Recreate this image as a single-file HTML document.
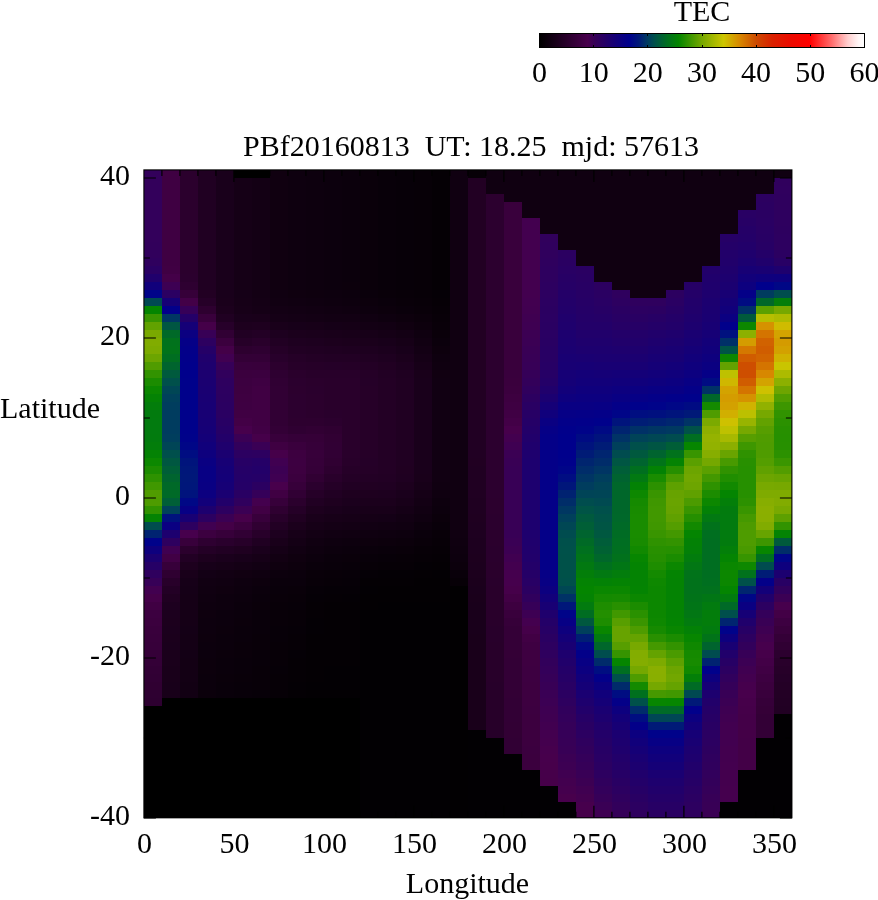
<!DOCTYPE html>
<html><head><meta charset="utf-8"><title>TEC map</title>
<style>
html,body{margin:0;padding:0;background:#fff;}
body{width:878px;height:900px;overflow:hidden;font-family:"Liberation Serif",serif;}
svg{display:block;}
text{font-family:"Liberation Serif",serif;fill:#000;}
</style></head><body>
<svg width="878" height="900" viewBox="0 0 878 900">
<rect width="878" height="900" fill="#fff"/>
<g shape-rendering="crispEdges">
<rect x="144" y="170" width="18" height="72" fill="#33005b"/>
<rect x="144" y="242" width="18" height="8" fill="#32005b"/>
<rect x="144" y="250" width="18" height="8" fill="#31005c"/>
<rect x="144" y="258" width="18" height="8" fill="#2f005e"/>
<rect x="144" y="266" width="18" height="8" fill="#2a0063"/>
<rect x="144" y="274" width="18" height="8" fill="#20006c"/>
<rect x="144" y="282" width="18" height="8" fill="#11007b"/>
<rect x="144" y="290" width="18" height="8" fill="#000489"/>
<rect x="144" y="298" width="18" height="8" fill="#004952"/>
<rect x="144" y="306" width="18" height="8" fill="#048500"/>
<rect x="144" y="314" width="18" height="8" fill="#399500"/>
<rect x="144" y="322" width="18" height="8" fill="#62a200"/>
<rect x="144" y="330" width="18" height="8" fill="#7aa900"/>
<rect x="144" y="338" width="18" height="8" fill="#81ac00"/>
<rect x="144" y="346" width="18" height="8" fill="#7dab00"/>
<rect x="144" y="354" width="18" height="8" fill="#6ca500"/>
<rect x="144" y="362" width="18" height="8" fill="#509c00"/>
<rect x="144" y="370" width="18" height="8" fill="#329300"/>
<rect x="144" y="378" width="18" height="8" fill="#1b8c00"/>
<rect x="144" y="386" width="18" height="8" fill="#0b8700"/>
<rect x="144" y="394" width="18" height="8" fill="#048204"/>
<rect x="144" y="402" width="18" height="8" fill="#037d0b"/>
<rect x="144" y="410" width="18" height="8" fill="#027b0e"/>
<rect x="144" y="418" width="18" height="16" fill="#027b0f"/>
<rect x="144" y="434" width="18" height="8" fill="#027b0e"/>
<rect x="144" y="442" width="18" height="8" fill="#037d0b"/>
<rect x="144" y="450" width="18" height="8" fill="#048204"/>
<rect x="144" y="458" width="18" height="8" fill="#0c8800"/>
<rect x="144" y="466" width="18" height="8" fill="#1c8c00"/>
<rect x="144" y="474" width="18" height="8" fill="#2e9200"/>
<rect x="144" y="482" width="18" height="8" fill="#409800"/>
<rect x="144" y="490" width="18" height="8" fill="#509c00"/>
<rect x="144" y="498" width="18" height="8" fill="#4e9c00"/>
<rect x="144" y="506" width="18" height="8" fill="#319300"/>
<rect x="144" y="514" width="18" height="8" fill="#048303"/>
<rect x="144" y="522" width="18" height="8" fill="#004d4e"/>
<rect x="144" y="530" width="18" height="8" fill="#002371"/>
<rect x="144" y="538" width="18" height="8" fill="#00028a"/>
<rect x="144" y="546" width="18" height="8" fill="#0e007e"/>
<rect x="144" y="554" width="18" height="8" fill="#1b0071"/>
<rect x="144" y="562" width="18" height="8" fill="#260066"/>
<rect x="144" y="570" width="18" height="8" fill="#2f005e"/>
<rect x="144" y="578" width="18" height="8" fill="#370057"/>
<rect x="144" y="586" width="18" height="8" fill="#420050"/>
<rect x="144" y="594" width="18" height="8" fill="#450049"/>
<rect x="144" y="602" width="18" height="8" fill="#400043"/>
<rect x="144" y="610" width="18" height="8" fill="#3c0040"/>
<rect x="144" y="618" width="18" height="8" fill="#3b003e"/>
<rect x="144" y="626" width="18" height="8" fill="#39003c"/>
<rect x="144" y="634" width="18" height="8" fill="#38003b"/>
<rect x="144" y="642" width="18" height="8" fill="#37003a"/>
<rect x="144" y="650" width="18" height="8" fill="#350038"/>
<rect x="144" y="658" width="18" height="8" fill="#340037"/>
<rect x="144" y="666" width="18" height="8" fill="#320035"/>
<rect x="144" y="674" width="18" height="8" fill="#310034"/>
<rect x="144" y="682" width="18" height="8" fill="#300032"/>
<rect x="144" y="690" width="18" height="8" fill="#2e0031"/>
<rect x="144" y="698" width="18" height="8" fill="#2d0030"/>
<rect x="144" y="706" width="18" height="112" fill="#000000"/>
<rect x="162" y="170" width="18" height="96" fill="#3f0042"/>
<rect x="162" y="266" width="18" height="8" fill="#400043"/>
<rect x="162" y="274" width="18" height="8" fill="#440048"/>
<rect x="162" y="282" width="18" height="8" fill="#3d0053"/>
<rect x="162" y="290" width="18" height="8" fill="#2b0062"/>
<rect x="162" y="298" width="18" height="8" fill="#160076"/>
<rect x="162" y="306" width="18" height="8" fill="#02008a"/>
<rect x="162" y="314" width="18" height="8" fill="#003663"/>
<rect x="162" y="322" width="18" height="8" fill="#005642"/>
<rect x="162" y="330" width="18" height="8" fill="#006928"/>
<rect x="162" y="338" width="18" height="8" fill="#01721c"/>
<rect x="162" y="346" width="18" height="8" fill="#01731a"/>
<rect x="162" y="354" width="18" height="8" fill="#006e21"/>
<rect x="162" y="362" width="18" height="8" fill="#00642e"/>
<rect x="162" y="370" width="18" height="8" fill="#005a3d"/>
<rect x="162" y="378" width="18" height="8" fill="#00504b"/>
<rect x="162" y="386" width="18" height="8" fill="#004655"/>
<rect x="162" y="394" width="18" height="8" fill="#00405b"/>
<rect x="162" y="402" width="18" height="8" fill="#003d5e"/>
<rect x="162" y="410" width="18" height="24" fill="#003c5f"/>
<rect x="162" y="434" width="18" height="8" fill="#003e5d"/>
<rect x="162" y="442" width="18" height="8" fill="#004556"/>
<rect x="162" y="450" width="18" height="8" fill="#004f4c"/>
<rect x="162" y="458" width="18" height="8" fill="#005741"/>
<rect x="162" y="466" width="18" height="8" fill="#005e38"/>
<rect x="162" y="474" width="18" height="8" fill="#00642f"/>
<rect x="162" y="482" width="18" height="8" fill="#006928"/>
<rect x="162" y="490" width="18" height="8" fill="#006a27"/>
<rect x="162" y="498" width="18" height="8" fill="#005f37"/>
<rect x="162" y="506" width="18" height="8" fill="#004259"/>
<rect x="162" y="514" width="18" height="8" fill="#00127d"/>
<rect x="162" y="522" width="18" height="8" fill="#0a0082"/>
<rect x="162" y="530" width="18" height="8" fill="#1d006f"/>
<rect x="162" y="538" width="18" height="8" fill="#2e005f"/>
<rect x="162" y="546" width="18" height="8" fill="#400051"/>
<rect x="162" y="554" width="18" height="8" fill="#410045"/>
<rect x="162" y="562" width="18" height="8" fill="#37003a"/>
<rect x="162" y="570" width="18" height="8" fill="#2f0031"/>
<rect x="162" y="578" width="18" height="8" fill="#28002a"/>
<rect x="162" y="586" width="18" height="8" fill="#230025"/>
<rect x="162" y="594" width="18" height="8" fill="#200021"/>
<rect x="162" y="602" width="18" height="8" fill="#1d001f"/>
<rect x="162" y="610" width="18" height="8" fill="#1c001e"/>
<rect x="162" y="618" width="18" height="8" fill="#1c001d"/>
<rect x="162" y="626" width="18" height="8" fill="#1b001d"/>
<rect x="162" y="634" width="18" height="8" fill="#1b001c"/>
<rect x="162" y="642" width="18" height="8" fill="#1a001c"/>
<rect x="162" y="650" width="18" height="16" fill="#1a001b"/>
<rect x="162" y="666" width="18" height="16" fill="#19001a"/>
<rect x="162" y="682" width="18" height="8" fill="#18001a"/>
<rect x="162" y="690" width="18" height="8" fill="#180019"/>
<rect x="162" y="698" width="18" height="120" fill="#000000"/>
<rect x="180" y="170" width="18" height="104" fill="#2b002d"/>
<rect x="180" y="274" width="18" height="8" fill="#2b002e"/>
<rect x="180" y="282" width="18" height="8" fill="#2e0031"/>
<rect x="180" y="290" width="18" height="8" fill="#360039"/>
<rect x="180" y="298" width="18" height="8" fill="#430047"/>
<rect x="180" y="306" width="18" height="8" fill="#360058"/>
<rect x="180" y="314" width="18" height="8" fill="#240068"/>
<rect x="180" y="322" width="18" height="8" fill="#150077"/>
<rect x="180" y="330" width="18" height="8" fill="#0b0081"/>
<rect x="180" y="338" width="18" height="8" fill="#050087"/>
<rect x="180" y="346" width="18" height="8" fill="#030089"/>
<rect x="180" y="354" width="18" height="8" fill="#02008a"/>
<rect x="180" y="362" width="18" height="8" fill="#01008b"/>
<rect x="180" y="370" width="18" height="8" fill="#00008c"/>
<rect x="180" y="378" width="18" height="56" fill="#00018b"/>
<rect x="180" y="434" width="18" height="8" fill="#00028a"/>
<rect x="180" y="442" width="18" height="8" fill="#000687"/>
<rect x="180" y="450" width="18" height="8" fill="#000d82"/>
<rect x="180" y="458" width="18" height="8" fill="#00147c"/>
<rect x="180" y="466" width="18" height="8" fill="#00177a"/>
<rect x="180" y="474" width="18" height="8" fill="#001879"/>
<rect x="180" y="482" width="18" height="8" fill="#00177a"/>
<rect x="180" y="490" width="18" height="8" fill="#00137d"/>
<rect x="180" y="498" width="18" height="8" fill="#000886"/>
<rect x="180" y="506" width="18" height="8" fill="#070085"/>
<rect x="180" y="514" width="18" height="8" fill="#180074"/>
<rect x="180" y="522" width="18" height="8" fill="#2d0060"/>
<rect x="180" y="530" width="18" height="8" fill="#47004d"/>
<rect x="180" y="538" width="18" height="8" fill="#38003b"/>
<rect x="180" y="546" width="18" height="8" fill="#2b002d"/>
<rect x="180" y="554" width="18" height="8" fill="#220024"/>
<rect x="180" y="562" width="18" height="8" fill="#1d001e"/>
<rect x="180" y="570" width="18" height="8" fill="#19001a"/>
<rect x="180" y="578" width="18" height="8" fill="#160018"/>
<rect x="180" y="586" width="18" height="8" fill="#150017"/>
<rect x="180" y="594" width="18" height="32" fill="#150016"/>
<rect x="180" y="626" width="18" height="8" fill="#140016"/>
<rect x="180" y="634" width="18" height="16" fill="#140015"/>
<rect x="180" y="650" width="18" height="8" fill="#130015"/>
<rect x="180" y="658" width="18" height="24" fill="#130014"/>
<rect x="180" y="682" width="18" height="16" fill="#120013"/>
<rect x="180" y="698" width="18" height="120" fill="#000000"/>
<rect x="198" y="170" width="18" height="120" fill="#200022"/>
<rect x="198" y="290" width="18" height="8" fill="#220023"/>
<rect x="198" y="298" width="18" height="8" fill="#260028"/>
<rect x="198" y="306" width="18" height="8" fill="#2e0030"/>
<rect x="198" y="314" width="18" height="8" fill="#39003c"/>
<rect x="198" y="322" width="18" height="8" fill="#450049"/>
<rect x="198" y="330" width="18" height="8" fill="#380056"/>
<rect x="198" y="338" width="18" height="8" fill="#2d0060"/>
<rect x="198" y="346" width="18" height="8" fill="#250067"/>
<rect x="198" y="354" width="18" height="8" fill="#20006c"/>
<rect x="198" y="362" width="18" height="8" fill="#1e006e"/>
<rect x="198" y="370" width="18" height="8" fill="#1c0070"/>
<rect x="198" y="378" width="18" height="8" fill="#1b0071"/>
<rect x="198" y="386" width="18" height="8" fill="#1a0072"/>
<rect x="198" y="394" width="18" height="8" fill="#190073"/>
<rect x="198" y="402" width="18" height="16" fill="#180074"/>
<rect x="198" y="418" width="18" height="8" fill="#170075"/>
<rect x="198" y="426" width="18" height="8" fill="#160076"/>
<rect x="198" y="434" width="18" height="8" fill="#140078"/>
<rect x="198" y="442" width="18" height="8" fill="#11007b"/>
<rect x="198" y="450" width="18" height="8" fill="#0e007e"/>
<rect x="198" y="458" width="18" height="8" fill="#0a0082"/>
<rect x="198" y="466" width="18" height="16" fill="#080084"/>
<rect x="198" y="482" width="18" height="8" fill="#090083"/>
<rect x="198" y="490" width="18" height="8" fill="#0c0080"/>
<rect x="198" y="498" width="18" height="8" fill="#12007a"/>
<rect x="198" y="506" width="18" height="8" fill="#1d006f"/>
<rect x="198" y="514" width="18" height="8" fill="#2c0061"/>
<rect x="198" y="522" width="18" height="8" fill="#400051"/>
<rect x="198" y="530" width="18" height="8" fill="#3c0040"/>
<rect x="198" y="538" width="18" height="8" fill="#2e0031"/>
<rect x="198" y="546" width="18" height="8" fill="#240026"/>
<rect x="198" y="554" width="18" height="8" fill="#1d001e"/>
<rect x="198" y="562" width="18" height="8" fill="#170019"/>
<rect x="198" y="570" width="18" height="8" fill="#130015"/>
<rect x="198" y="578" width="18" height="8" fill="#110012"/>
<rect x="198" y="586" width="18" height="8" fill="#100011"/>
<rect x="198" y="594" width="18" height="8" fill="#0f0010"/>
<rect x="198" y="602" width="18" height="8" fill="#0e000f"/>
<rect x="198" y="610" width="18" height="8" fill="#0e000e"/>
<rect x="198" y="618" width="18" height="16" fill="#0d000e"/>
<rect x="198" y="634" width="18" height="8" fill="#0d000d"/>
<rect x="198" y="642" width="18" height="16" fill="#0c000d"/>
<rect x="198" y="658" width="18" height="16" fill="#0c000c"/>
<rect x="198" y="674" width="18" height="16" fill="#0b000c"/>
<rect x="198" y="690" width="18" height="8" fill="#0b000b"/>
<rect x="198" y="698" width="18" height="120" fill="#000000"/>
<rect x="216" y="170" width="18" height="128" fill="#19001b"/>
<rect x="216" y="298" width="18" height="8" fill="#1a001b"/>
<rect x="216" y="306" width="18" height="8" fill="#1c001d"/>
<rect x="216" y="314" width="18" height="8" fill="#200022"/>
<rect x="216" y="322" width="18" height="8" fill="#27002a"/>
<rect x="216" y="330" width="18" height="8" fill="#310034"/>
<rect x="216" y="338" width="18" height="8" fill="#3b003e"/>
<rect x="216" y="346" width="18" height="8" fill="#440048"/>
<rect x="216" y="354" width="18" height="8" fill="#410051"/>
<rect x="216" y="362" width="18" height="8" fill="#360058"/>
<rect x="216" y="370" width="18" height="8" fill="#31005c"/>
<rect x="216" y="378" width="18" height="8" fill="#2e005f"/>
<rect x="216" y="386" width="18" height="8" fill="#2d0060"/>
<rect x="216" y="394" width="18" height="8" fill="#2c0060"/>
<rect x="216" y="402" width="18" height="8" fill="#2b0061"/>
<rect x="216" y="410" width="18" height="8" fill="#2a0062"/>
<rect x="216" y="418" width="18" height="8" fill="#280064"/>
<rect x="216" y="426" width="18" height="8" fill="#260066"/>
<rect x="216" y="434" width="18" height="8" fill="#230069"/>
<rect x="216" y="442" width="18" height="8" fill="#1f006d"/>
<rect x="216" y="450" width="18" height="8" fill="#1b0071"/>
<rect x="216" y="458" width="18" height="8" fill="#170075"/>
<rect x="216" y="466" width="18" height="8" fill="#150077"/>
<rect x="216" y="474" width="18" height="8" fill="#140078"/>
<rect x="216" y="482" width="18" height="8" fill="#160076"/>
<rect x="216" y="490" width="18" height="8" fill="#1a0072"/>
<rect x="216" y="498" width="18" height="8" fill="#22006a"/>
<rect x="216" y="506" width="18" height="8" fill="#2d0060"/>
<rect x="216" y="514" width="18" height="8" fill="#3b0054"/>
<rect x="216" y="522" width="18" height="8" fill="#440047"/>
<rect x="216" y="530" width="18" height="8" fill="#37003a"/>
<rect x="216" y="538" width="18" height="8" fill="#2a002d"/>
<rect x="216" y="546" width="18" height="8" fill="#210023"/>
<rect x="216" y="554" width="18" height="8" fill="#1a001c"/>
<rect x="216" y="562" width="18" height="8" fill="#160017"/>
<rect x="216" y="570" width="18" height="8" fill="#120013"/>
<rect x="216" y="578" width="18" height="8" fill="#100011"/>
<rect x="216" y="586" width="18" height="8" fill="#0f000f"/>
<rect x="216" y="594" width="18" height="16" fill="#0d000e"/>
<rect x="216" y="610" width="18" height="16" fill="#0c000d"/>
<rect x="216" y="626" width="18" height="8" fill="#0c000c"/>
<rect x="216" y="634" width="18" height="16" fill="#0b000c"/>
<rect x="216" y="650" width="18" height="8" fill="#0b000b"/>
<rect x="216" y="658" width="18" height="16" fill="#0a000b"/>
<rect x="216" y="674" width="18" height="8" fill="#0a000a"/>
<rect x="216" y="682" width="18" height="16" fill="#09000a"/>
<rect x="216" y="698" width="18" height="120" fill="#000000"/>
<rect x="234" y="170" width="18" height="8" fill="#000000"/>
<rect x="234" y="178" width="18" height="112" fill="#150016"/>
<rect x="234" y="290" width="18" height="8" fill="#150017"/>
<rect x="234" y="298" width="18" height="8" fill="#160017"/>
<rect x="234" y="306" width="18" height="8" fill="#170018"/>
<rect x="234" y="314" width="18" height="8" fill="#19001b"/>
<rect x="234" y="322" width="18" height="8" fill="#1d001e"/>
<rect x="234" y="330" width="18" height="8" fill="#210023"/>
<rect x="234" y="338" width="18" height="8" fill="#260028"/>
<rect x="234" y="346" width="18" height="8" fill="#2d002f"/>
<rect x="234" y="354" width="18" height="8" fill="#330036"/>
<rect x="234" y="362" width="18" height="8" fill="#38003c"/>
<rect x="234" y="370" width="18" height="8" fill="#3b003e"/>
<rect x="234" y="378" width="18" height="8" fill="#3c0040"/>
<rect x="234" y="386" width="18" height="8" fill="#3d0040"/>
<rect x="234" y="394" width="18" height="8" fill="#3e0041"/>
<rect x="234" y="402" width="18" height="8" fill="#3e0042"/>
<rect x="234" y="410" width="18" height="8" fill="#400043"/>
<rect x="234" y="418" width="18" height="8" fill="#430046"/>
<rect x="234" y="426" width="18" height="8" fill="#47004c"/>
<rect x="234" y="434" width="18" height="8" fill="#3b0054"/>
<rect x="234" y="442" width="18" height="8" fill="#32005b"/>
<rect x="234" y="450" width="18" height="8" fill="#2c0061"/>
<rect x="234" y="458" width="18" height="8" fill="#270065"/>
<rect x="234" y="466" width="18" height="8" fill="#250067"/>
<rect x="234" y="474" width="18" height="8" fill="#240068"/>
<rect x="234" y="482" width="18" height="8" fill="#250067"/>
<rect x="234" y="490" width="18" height="8" fill="#290063"/>
<rect x="234" y="498" width="18" height="8" fill="#30005d"/>
<rect x="234" y="506" width="18" height="8" fill="#3b0054"/>
<rect x="234" y="514" width="18" height="8" fill="#47004a"/>
<rect x="234" y="522" width="18" height="8" fill="#3c003f"/>
<rect x="234" y="530" width="18" height="8" fill="#310034"/>
<rect x="234" y="538" width="18" height="8" fill="#270029"/>
<rect x="234" y="546" width="18" height="8" fill="#1f0020"/>
<rect x="234" y="554" width="18" height="8" fill="#18001a"/>
<rect x="234" y="562" width="18" height="8" fill="#140015"/>
<rect x="234" y="570" width="18" height="8" fill="#110011"/>
<rect x="234" y="578" width="18" height="8" fill="#0e000f"/>
<rect x="234" y="586" width="18" height="8" fill="#0d000e"/>
<rect x="234" y="594" width="18" height="8" fill="#0c000d"/>
<rect x="234" y="602" width="18" height="16" fill="#0b000c"/>
<rect x="234" y="618" width="18" height="8" fill="#0b000b"/>
<rect x="234" y="626" width="18" height="16" fill="#0a000b"/>
<rect x="234" y="642" width="18" height="16" fill="#0a000a"/>
<rect x="234" y="658" width="18" height="16" fill="#09000a"/>
<rect x="234" y="674" width="18" height="8" fill="#090009"/>
<rect x="234" y="682" width="18" height="16" fill="#080009"/>
<rect x="234" y="698" width="18" height="120" fill="#000000"/>
<rect x="252" y="170" width="18" height="8" fill="#000000"/>
<rect x="252" y="178" width="18" height="120" fill="#130014"/>
<rect x="252" y="298" width="18" height="8" fill="#140015"/>
<rect x="252" y="306" width="18" height="8" fill="#150016"/>
<rect x="252" y="314" width="18" height="8" fill="#19001a"/>
<rect x="252" y="322" width="18" height="8" fill="#1e001f"/>
<rect x="252" y="330" width="18" height="8" fill="#230025"/>
<rect x="252" y="338" width="18" height="8" fill="#29002b"/>
<rect x="252" y="346" width="18" height="8" fill="#2e0031"/>
<rect x="252" y="354" width="18" height="8" fill="#330036"/>
<rect x="252" y="362" width="18" height="8" fill="#38003b"/>
<rect x="252" y="370" width="18" height="8" fill="#3b003f"/>
<rect x="252" y="378" width="18" height="8" fill="#3e0042"/>
<rect x="252" y="386" width="18" height="40" fill="#400043"/>
<rect x="252" y="426" width="18" height="8" fill="#410045"/>
<rect x="252" y="434" width="18" height="8" fill="#46004a"/>
<rect x="252" y="442" width="18" height="8" fill="#3a0055"/>
<rect x="252" y="450" width="18" height="8" fill="#2d0060"/>
<rect x="252" y="458" width="18" height="8" fill="#250067"/>
<rect x="252" y="466" width="18" height="8" fill="#230069"/>
<rect x="252" y="474" width="18" height="8" fill="#250067"/>
<rect x="252" y="482" width="18" height="8" fill="#2b0061"/>
<rect x="252" y="490" width="18" height="8" fill="#350059"/>
<rect x="252" y="498" width="18" height="8" fill="#44004e"/>
<rect x="252" y="506" width="18" height="8" fill="#410044"/>
<rect x="252" y="514" width="18" height="8" fill="#38003b"/>
<rect x="252" y="522" width="18" height="8" fill="#300032"/>
<rect x="252" y="530" width="18" height="8" fill="#28002a"/>
<rect x="252" y="538" width="18" height="8" fill="#200022"/>
<rect x="252" y="546" width="18" height="8" fill="#1a001c"/>
<rect x="252" y="554" width="18" height="8" fill="#160017"/>
<rect x="252" y="562" width="18" height="8" fill="#120013"/>
<rect x="252" y="570" width="18" height="8" fill="#0f0010"/>
<rect x="252" y="578" width="18" height="8" fill="#0d000d"/>
<rect x="252" y="586" width="18" height="8" fill="#0b000c"/>
<rect x="252" y="594" width="18" height="8" fill="#0a000b"/>
<rect x="252" y="602" width="18" height="8" fill="#0a000a"/>
<rect x="252" y="610" width="18" height="24" fill="#09000a"/>
<rect x="252" y="634" width="18" height="16" fill="#090009"/>
<rect x="252" y="650" width="18" height="16" fill="#080009"/>
<rect x="252" y="666" width="18" height="24" fill="#080008"/>
<rect x="252" y="690" width="18" height="8" fill="#070008"/>
<rect x="252" y="698" width="18" height="120" fill="#000000"/>
<rect x="270" y="170" width="18" height="120" fill="#100010"/>
<rect x="270" y="290" width="18" height="8" fill="#100011"/>
<rect x="270" y="298" width="18" height="8" fill="#110012"/>
<rect x="270" y="306" width="18" height="8" fill="#130014"/>
<rect x="270" y="314" width="18" height="8" fill="#150016"/>
<rect x="270" y="322" width="18" height="8" fill="#19001a"/>
<rect x="270" y="330" width="18" height="8" fill="#1d001f"/>
<rect x="270" y="338" width="18" height="8" fill="#210023"/>
<rect x="270" y="346" width="18" height="8" fill="#250027"/>
<rect x="270" y="354" width="18" height="8" fill="#28002b"/>
<rect x="270" y="362" width="18" height="8" fill="#2c002e"/>
<rect x="270" y="370" width="18" height="8" fill="#2e0031"/>
<rect x="270" y="378" width="18" height="8" fill="#300033"/>
<rect x="270" y="386" width="18" height="40" fill="#310034"/>
<rect x="270" y="426" width="18" height="8" fill="#330036"/>
<rect x="270" y="434" width="18" height="8" fill="#38003b"/>
<rect x="270" y="442" width="18" height="8" fill="#3f0042"/>
<rect x="270" y="450" width="18" height="8" fill="#46004a"/>
<rect x="270" y="458" width="18" height="8" fill="#400051"/>
<rect x="270" y="466" width="18" height="8" fill="#3c0053"/>
<rect x="270" y="474" width="18" height="8" fill="#3f0052"/>
<rect x="270" y="482" width="18" height="8" fill="#48004c"/>
<rect x="270" y="490" width="18" height="8" fill="#400043"/>
<rect x="270" y="498" width="18" height="8" fill="#37003a"/>
<rect x="270" y="506" width="18" height="8" fill="#2f0031"/>
<rect x="270" y="514" width="18" height="8" fill="#28002a"/>
<rect x="270" y="522" width="18" height="8" fill="#220024"/>
<rect x="270" y="530" width="18" height="8" fill="#1d001f"/>
<rect x="270" y="538" width="18" height="8" fill="#19001a"/>
<rect x="270" y="546" width="18" height="8" fill="#150016"/>
<rect x="270" y="554" width="18" height="8" fill="#120012"/>
<rect x="270" y="562" width="18" height="8" fill="#0f000f"/>
<rect x="270" y="570" width="18" height="8" fill="#0c000d"/>
<rect x="270" y="578" width="18" height="8" fill="#0a000b"/>
<rect x="270" y="586" width="18" height="8" fill="#09000a"/>
<rect x="270" y="594" width="18" height="8" fill="#090009"/>
<rect x="270" y="602" width="18" height="24" fill="#080008"/>
<rect x="270" y="626" width="18" height="16" fill="#070008"/>
<rect x="270" y="642" width="18" height="24" fill="#070007"/>
<rect x="270" y="666" width="18" height="8" fill="#060007"/>
<rect x="270" y="674" width="18" height="24" fill="#060006"/>
<rect x="270" y="698" width="18" height="120" fill="#000000"/>
<rect x="288" y="170" width="18" height="120" fill="#0e000f"/>
<rect x="288" y="290" width="18" height="8" fill="#0f000f"/>
<rect x="288" y="298" width="18" height="8" fill="#100011"/>
<rect x="288" y="306" width="18" height="8" fill="#120013"/>
<rect x="288" y="314" width="18" height="8" fill="#140015"/>
<rect x="288" y="322" width="18" height="8" fill="#170019"/>
<rect x="288" y="330" width="18" height="8" fill="#1b001c"/>
<rect x="288" y="338" width="18" height="8" fill="#1e0020"/>
<rect x="288" y="346" width="18" height="8" fill="#210023"/>
<rect x="288" y="354" width="18" height="8" fill="#250027"/>
<rect x="288" y="362" width="18" height="8" fill="#270029"/>
<rect x="288" y="370" width="18" height="8" fill="#2a002c"/>
<rect x="288" y="378" width="18" height="8" fill="#2b002e"/>
<rect x="288" y="386" width="18" height="8" fill="#2c002e"/>
<rect x="288" y="394" width="18" height="24" fill="#2c002f"/>
<rect x="288" y="418" width="18" height="8" fill="#2d002f"/>
<rect x="288" y="426" width="18" height="8" fill="#2f0032"/>
<rect x="288" y="434" width="18" height="8" fill="#350038"/>
<rect x="288" y="442" width="18" height="8" fill="#3a003d"/>
<rect x="288" y="450" width="18" height="8" fill="#3d0040"/>
<rect x="288" y="458" width="18" height="8" fill="#3d0041"/>
<rect x="288" y="466" width="18" height="8" fill="#3d0040"/>
<rect x="288" y="474" width="18" height="8" fill="#3b003e"/>
<rect x="288" y="482" width="18" height="8" fill="#37003a"/>
<rect x="288" y="490" width="18" height="8" fill="#310034"/>
<rect x="288" y="498" width="18" height="8" fill="#2b002d"/>
<rect x="288" y="506" width="18" height="8" fill="#250027"/>
<rect x="288" y="514" width="18" height="8" fill="#200021"/>
<rect x="288" y="522" width="18" height="8" fill="#1b001c"/>
<rect x="288" y="530" width="18" height="8" fill="#170018"/>
<rect x="288" y="538" width="18" height="8" fill="#140015"/>
<rect x="288" y="546" width="18" height="8" fill="#110012"/>
<rect x="288" y="554" width="18" height="8" fill="#0f000f"/>
<rect x="288" y="562" width="18" height="8" fill="#0d000d"/>
<rect x="288" y="570" width="18" height="8" fill="#0b000c"/>
<rect x="288" y="578" width="18" height="8" fill="#0a000b"/>
<rect x="288" y="586" width="18" height="8" fill="#090009"/>
<rect x="288" y="594" width="18" height="8" fill="#080008"/>
<rect x="288" y="602" width="18" height="8" fill="#070008"/>
<rect x="288" y="610" width="18" height="16" fill="#070007"/>
<rect x="288" y="626" width="18" height="8" fill="#060007"/>
<rect x="288" y="634" width="18" height="16" fill="#060006"/>
<rect x="288" y="650" width="18" height="8" fill="#050006"/>
<rect x="288" y="658" width="18" height="24" fill="#050005"/>
<rect x="288" y="682" width="18" height="8" fill="#040005"/>
<rect x="288" y="690" width="18" height="8" fill="#040004"/>
<rect x="288" y="698" width="18" height="120" fill="#000000"/>
<rect x="306" y="170" width="18" height="120" fill="#0d000e"/>
<rect x="306" y="290" width="18" height="8" fill="#0e000e"/>
<rect x="306" y="298" width="18" height="8" fill="#0f0010"/>
<rect x="306" y="306" width="18" height="8" fill="#110012"/>
<rect x="306" y="314" width="18" height="8" fill="#130014"/>
<rect x="306" y="322" width="18" height="8" fill="#170018"/>
<rect x="306" y="330" width="18" height="8" fill="#1a001b"/>
<rect x="306" y="338" width="18" height="8" fill="#1d001f"/>
<rect x="306" y="346" width="18" height="8" fill="#200022"/>
<rect x="306" y="354" width="18" height="8" fill="#230025"/>
<rect x="306" y="362" width="18" height="8" fill="#260028"/>
<rect x="306" y="370" width="18" height="8" fill="#28002a"/>
<rect x="306" y="378" width="18" height="8" fill="#2a002c"/>
<rect x="306" y="386" width="18" height="8" fill="#2a002d"/>
<rect x="306" y="394" width="18" height="24" fill="#2b002d"/>
<rect x="306" y="418" width="18" height="8" fill="#2d002f"/>
<rect x="306" y="426" width="18" height="8" fill="#310033"/>
<rect x="306" y="434" width="18" height="8" fill="#350037"/>
<rect x="306" y="442" width="18" height="8" fill="#360039"/>
<rect x="306" y="450" width="18" height="8" fill="#37003a"/>
<rect x="306" y="458" width="18" height="8" fill="#360039"/>
<rect x="306" y="466" width="18" height="8" fill="#350038"/>
<rect x="306" y="474" width="18" height="8" fill="#310033"/>
<rect x="306" y="482" width="18" height="8" fill="#2b002e"/>
<rect x="306" y="490" width="18" height="8" fill="#260028"/>
<rect x="306" y="498" width="18" height="8" fill="#210023"/>
<rect x="306" y="506" width="18" height="8" fill="#1d001e"/>
<rect x="306" y="514" width="18" height="8" fill="#19001a"/>
<rect x="306" y="522" width="18" height="8" fill="#160017"/>
<rect x="306" y="530" width="18" height="8" fill="#130014"/>
<rect x="306" y="538" width="18" height="8" fill="#100011"/>
<rect x="306" y="546" width="18" height="8" fill="#0e000f"/>
<rect x="306" y="554" width="18" height="8" fill="#0c000d"/>
<rect x="306" y="562" width="18" height="8" fill="#0a000b"/>
<rect x="306" y="570" width="18" height="8" fill="#090009"/>
<rect x="306" y="578" width="18" height="8" fill="#080008"/>
<rect x="306" y="586" width="18" height="8" fill="#060007"/>
<rect x="306" y="594" width="18" height="8" fill="#050006"/>
<rect x="306" y="602" width="18" height="16" fill="#050005"/>
<rect x="306" y="618" width="18" height="16" fill="#040005"/>
<rect x="306" y="634" width="18" height="48" fill="#040004"/>
<rect x="306" y="682" width="18" height="8" fill="#030004"/>
<rect x="306" y="690" width="18" height="8" fill="#030003"/>
<rect x="306" y="698" width="18" height="120" fill="#000000"/>
<rect x="324" y="170" width="18" height="120" fill="#0c000d"/>
<rect x="324" y="290" width="18" height="8" fill="#0d000e"/>
<rect x="324" y="298" width="18" height="8" fill="#0e000f"/>
<rect x="324" y="306" width="18" height="8" fill="#100011"/>
<rect x="324" y="314" width="18" height="8" fill="#120013"/>
<rect x="324" y="322" width="18" height="8" fill="#150017"/>
<rect x="324" y="330" width="18" height="8" fill="#19001a"/>
<rect x="324" y="338" width="18" height="8" fill="#1c001d"/>
<rect x="324" y="346" width="18" height="8" fill="#1f0021"/>
<rect x="324" y="354" width="18" height="8" fill="#220024"/>
<rect x="324" y="362" width="18" height="8" fill="#250028"/>
<rect x="324" y="370" width="18" height="8" fill="#28002a"/>
<rect x="324" y="378" width="18" height="32" fill="#29002b"/>
<rect x="324" y="410" width="18" height="8" fill="#29002c"/>
<rect x="324" y="418" width="18" height="8" fill="#2b002e"/>
<rect x="324" y="426" width="18" height="8" fill="#2f0031"/>
<rect x="324" y="434" width="18" height="8" fill="#310033"/>
<rect x="324" y="442" width="18" height="16" fill="#310034"/>
<rect x="324" y="458" width="18" height="8" fill="#300032"/>
<rect x="324" y="466" width="18" height="8" fill="#2d002f"/>
<rect x="324" y="474" width="18" height="8" fill="#29002b"/>
<rect x="324" y="482" width="18" height="8" fill="#250027"/>
<rect x="324" y="490" width="18" height="8" fill="#210023"/>
<rect x="324" y="498" width="18" height="8" fill="#1e001f"/>
<rect x="324" y="506" width="18" height="8" fill="#1a001c"/>
<rect x="324" y="514" width="18" height="8" fill="#170018"/>
<rect x="324" y="522" width="18" height="8" fill="#140015"/>
<rect x="324" y="530" width="18" height="8" fill="#110012"/>
<rect x="324" y="538" width="18" height="8" fill="#0e000f"/>
<rect x="324" y="546" width="18" height="8" fill="#0c000d"/>
<rect x="324" y="554" width="18" height="8" fill="#0a000b"/>
<rect x="324" y="562" width="18" height="8" fill="#09000a"/>
<rect x="324" y="570" width="18" height="8" fill="#080008"/>
<rect x="324" y="578" width="18" height="8" fill="#070007"/>
<rect x="324" y="586" width="18" height="8" fill="#050006"/>
<rect x="324" y="594" width="18" height="8" fill="#050005"/>
<rect x="324" y="602" width="18" height="64" fill="#040004"/>
<rect x="324" y="666" width="18" height="24" fill="#030004"/>
<rect x="324" y="690" width="18" height="8" fill="#030003"/>
<rect x="324" y="698" width="18" height="120" fill="#000000"/>
<rect x="342" y="170" width="18" height="112" fill="#0b000c"/>
<rect x="342" y="282" width="18" height="8" fill="#0c000c"/>
<rect x="342" y="290" width="18" height="8" fill="#0c000d"/>
<rect x="342" y="298" width="18" height="8" fill="#0d000e"/>
<rect x="342" y="306" width="18" height="8" fill="#0f0010"/>
<rect x="342" y="314" width="18" height="8" fill="#120013"/>
<rect x="342" y="322" width="18" height="8" fill="#150016"/>
<rect x="342" y="330" width="18" height="8" fill="#180019"/>
<rect x="342" y="338" width="18" height="8" fill="#1b001c"/>
<rect x="342" y="346" width="18" height="8" fill="#1e0020"/>
<rect x="342" y="354" width="18" height="8" fill="#220024"/>
<rect x="342" y="362" width="18" height="8" fill="#250027"/>
<rect x="342" y="370" width="18" height="8" fill="#28002a"/>
<rect x="342" y="378" width="18" height="80" fill="#29002b"/>
<rect x="342" y="458" width="18" height="8" fill="#28002a"/>
<rect x="342" y="466" width="18" height="8" fill="#260028"/>
<rect x="342" y="474" width="18" height="8" fill="#240026"/>
<rect x="342" y="482" width="18" height="8" fill="#210023"/>
<rect x="342" y="490" width="18" height="8" fill="#1e001f"/>
<rect x="342" y="498" width="18" height="8" fill="#1b001d"/>
<rect x="342" y="506" width="18" height="8" fill="#18001a"/>
<rect x="342" y="514" width="18" height="8" fill="#160017"/>
<rect x="342" y="522" width="18" height="8" fill="#130014"/>
<rect x="342" y="530" width="18" height="8" fill="#100011"/>
<rect x="342" y="538" width="18" height="8" fill="#0d000e"/>
<rect x="342" y="546" width="18" height="8" fill="#0b000c"/>
<rect x="342" y="554" width="18" height="8" fill="#0a000a"/>
<rect x="342" y="562" width="18" height="8" fill="#080009"/>
<rect x="342" y="570" width="18" height="8" fill="#070008"/>
<rect x="342" y="578" width="18" height="8" fill="#060007"/>
<rect x="342" y="586" width="18" height="8" fill="#050006"/>
<rect x="342" y="594" width="18" height="8" fill="#040005"/>
<rect x="342" y="602" width="18" height="64" fill="#040004"/>
<rect x="342" y="666" width="18" height="24" fill="#030004"/>
<rect x="342" y="690" width="18" height="8" fill="#030003"/>
<rect x="342" y="698" width="18" height="120" fill="#000000"/>
<rect x="360" y="170" width="18" height="120" fill="#0a000a"/>
<rect x="360" y="290" width="18" height="8" fill="#0a000b"/>
<rect x="360" y="298" width="18" height="8" fill="#0c000c"/>
<rect x="360" y="306" width="18" height="8" fill="#0d000e"/>
<rect x="360" y="314" width="18" height="8" fill="#100011"/>
<rect x="360" y="322" width="18" height="8" fill="#130014"/>
<rect x="360" y="330" width="18" height="8" fill="#170018"/>
<rect x="360" y="338" width="18" height="8" fill="#1a001b"/>
<rect x="360" y="346" width="18" height="8" fill="#1d001f"/>
<rect x="360" y="354" width="18" height="8" fill="#200022"/>
<rect x="360" y="362" width="18" height="8" fill="#230025"/>
<rect x="360" y="370" width="18" height="8" fill="#250027"/>
<rect x="360" y="378" width="18" height="8" fill="#250028"/>
<rect x="360" y="386" width="18" height="72" fill="#260028"/>
<rect x="360" y="458" width="18" height="8" fill="#250028"/>
<rect x="360" y="466" width="18" height="8" fill="#250027"/>
<rect x="360" y="474" width="18" height="8" fill="#230025"/>
<rect x="360" y="482" width="18" height="8" fill="#210022"/>
<rect x="360" y="490" width="18" height="8" fill="#1e001f"/>
<rect x="360" y="498" width="18" height="8" fill="#1b001c"/>
<rect x="360" y="506" width="18" height="8" fill="#180019"/>
<rect x="360" y="514" width="18" height="8" fill="#150016"/>
<rect x="360" y="522" width="18" height="8" fill="#120013"/>
<rect x="360" y="530" width="18" height="8" fill="#0f0010"/>
<rect x="360" y="538" width="18" height="8" fill="#0d000d"/>
<rect x="360" y="546" width="18" height="8" fill="#0a000b"/>
<rect x="360" y="554" width="18" height="8" fill="#080009"/>
<rect x="360" y="562" width="18" height="8" fill="#070007"/>
<rect x="360" y="570" width="18" height="8" fill="#050006"/>
<rect x="360" y="578" width="18" height="8" fill="#040004"/>
<rect x="360" y="586" width="18" height="8" fill="#030004"/>
<rect x="360" y="594" width="18" height="16" fill="#030003"/>
<rect x="360" y="610" width="18" height="208" fill="#020003"/>
<rect x="378" y="170" width="18" height="120" fill="#080009"/>
<rect x="378" y="290" width="18" height="8" fill="#090009"/>
<rect x="378" y="298" width="18" height="8" fill="#0a000b"/>
<rect x="378" y="306" width="18" height="8" fill="#0c000c"/>
<rect x="378" y="314" width="18" height="8" fill="#0e000f"/>
<rect x="378" y="322" width="18" height="8" fill="#120013"/>
<rect x="378" y="330" width="18" height="8" fill="#150016"/>
<rect x="378" y="338" width="18" height="8" fill="#18001a"/>
<rect x="378" y="346" width="18" height="8" fill="#1b001d"/>
<rect x="378" y="354" width="18" height="8" fill="#1e0020"/>
<rect x="378" y="362" width="18" height="8" fill="#210022"/>
<rect x="378" y="370" width="18" height="8" fill="#220024"/>
<rect x="378" y="378" width="18" height="96" fill="#230025"/>
<rect x="378" y="474" width="18" height="8" fill="#220024"/>
<rect x="378" y="482" width="18" height="8" fill="#200022"/>
<rect x="378" y="490" width="18" height="8" fill="#1d001f"/>
<rect x="378" y="498" width="18" height="8" fill="#1b001c"/>
<rect x="378" y="506" width="18" height="8" fill="#180019"/>
<rect x="378" y="514" width="18" height="8" fill="#140016"/>
<rect x="378" y="522" width="18" height="8" fill="#110012"/>
<rect x="378" y="530" width="18" height="8" fill="#0e000f"/>
<rect x="378" y="538" width="18" height="8" fill="#0c000c"/>
<rect x="378" y="546" width="18" height="8" fill="#09000a"/>
<rect x="378" y="554" width="18" height="8" fill="#070008"/>
<rect x="378" y="562" width="18" height="8" fill="#060006"/>
<rect x="378" y="570" width="18" height="8" fill="#040005"/>
<rect x="378" y="578" width="18" height="8" fill="#040004"/>
<rect x="378" y="586" width="18" height="16" fill="#030003"/>
<rect x="378" y="602" width="18" height="216" fill="#020003"/>
<rect x="396" y="170" width="18" height="120" fill="#070008"/>
<rect x="396" y="290" width="18" height="8" fill="#080008"/>
<rect x="396" y="298" width="18" height="8" fill="#090009"/>
<rect x="396" y="306" width="18" height="8" fill="#0a000b"/>
<rect x="396" y="314" width="18" height="8" fill="#0d000d"/>
<rect x="396" y="322" width="18" height="8" fill="#100010"/>
<rect x="396" y="330" width="18" height="8" fill="#130014"/>
<rect x="396" y="338" width="18" height="8" fill="#160017"/>
<rect x="396" y="346" width="18" height="8" fill="#18001a"/>
<rect x="396" y="354" width="18" height="8" fill="#1b001c"/>
<rect x="396" y="362" width="18" height="8" fill="#1d001f"/>
<rect x="396" y="370" width="18" height="8" fill="#1f0021"/>
<rect x="396" y="378" width="18" height="88" fill="#200022"/>
<rect x="396" y="466" width="18" height="8" fill="#200021"/>
<rect x="396" y="474" width="18" height="8" fill="#1f0021"/>
<rect x="396" y="482" width="18" height="8" fill="#1d001e"/>
<rect x="396" y="490" width="18" height="8" fill="#1a001c"/>
<rect x="396" y="498" width="18" height="8" fill="#180019"/>
<rect x="396" y="506" width="18" height="8" fill="#150016"/>
<rect x="396" y="514" width="18" height="8" fill="#120013"/>
<rect x="396" y="522" width="18" height="8" fill="#100011"/>
<rect x="396" y="530" width="18" height="8" fill="#0d000e"/>
<rect x="396" y="538" width="18" height="8" fill="#0b000b"/>
<rect x="396" y="546" width="18" height="8" fill="#090009"/>
<rect x="396" y="554" width="18" height="8" fill="#070007"/>
<rect x="396" y="562" width="18" height="8" fill="#060006"/>
<rect x="396" y="570" width="18" height="8" fill="#040005"/>
<rect x="396" y="578" width="18" height="8" fill="#040004"/>
<rect x="396" y="586" width="18" height="16" fill="#030003"/>
<rect x="396" y="602" width="18" height="216" fill="#020003"/>
<rect x="414" y="170" width="18" height="128" fill="#070007"/>
<rect x="414" y="298" width="18" height="8" fill="#080008"/>
<rect x="414" y="306" width="18" height="8" fill="#090009"/>
<rect x="414" y="314" width="18" height="8" fill="#0b000b"/>
<rect x="414" y="322" width="18" height="8" fill="#0d000d"/>
<rect x="414" y="330" width="18" height="8" fill="#0f0010"/>
<rect x="414" y="338" width="18" height="8" fill="#110012"/>
<rect x="414" y="346" width="18" height="8" fill="#130014"/>
<rect x="414" y="354" width="18" height="8" fill="#150016"/>
<rect x="414" y="362" width="18" height="8" fill="#170018"/>
<rect x="414" y="370" width="18" height="8" fill="#19001a"/>
<rect x="414" y="378" width="18" height="96" fill="#19001b"/>
<rect x="414" y="474" width="18" height="8" fill="#19001a"/>
<rect x="414" y="482" width="18" height="8" fill="#170018"/>
<rect x="414" y="490" width="18" height="8" fill="#150016"/>
<rect x="414" y="498" width="18" height="8" fill="#130014"/>
<rect x="414" y="506" width="18" height="8" fill="#110012"/>
<rect x="414" y="514" width="18" height="8" fill="#0f0010"/>
<rect x="414" y="522" width="18" height="8" fill="#0c000d"/>
<rect x="414" y="530" width="18" height="8" fill="#0a000b"/>
<rect x="414" y="538" width="18" height="8" fill="#090009"/>
<rect x="414" y="546" width="18" height="8" fill="#070007"/>
<rect x="414" y="554" width="18" height="8" fill="#060006"/>
<rect x="414" y="562" width="18" height="8" fill="#040005"/>
<rect x="414" y="570" width="18" height="8" fill="#040004"/>
<rect x="414" y="578" width="18" height="24" fill="#030003"/>
<rect x="414" y="602" width="18" height="216" fill="#020003"/>
<rect x="432" y="170" width="18" height="120" fill="#050005"/>
<rect x="432" y="290" width="18" height="8" fill="#050006"/>
<rect x="432" y="298" width="18" height="8" fill="#060006"/>
<rect x="432" y="306" width="18" height="8" fill="#070007"/>
<rect x="432" y="314" width="18" height="8" fill="#080008"/>
<rect x="432" y="322" width="18" height="8" fill="#090009"/>
<rect x="432" y="330" width="18" height="8" fill="#0a000a"/>
<rect x="432" y="338" width="18" height="8" fill="#0b000c"/>
<rect x="432" y="346" width="18" height="8" fill="#0d000d"/>
<rect x="432" y="354" width="18" height="8" fill="#0e000f"/>
<rect x="432" y="362" width="18" height="8" fill="#0f0010"/>
<rect x="432" y="370" width="18" height="8" fill="#110011"/>
<rect x="432" y="378" width="18" height="104" fill="#110012"/>
<rect x="432" y="482" width="18" height="8" fill="#100011"/>
<rect x="432" y="490" width="18" height="8" fill="#0f0010"/>
<rect x="432" y="498" width="18" height="8" fill="#0d000e"/>
<rect x="432" y="506" width="18" height="8" fill="#0c000d"/>
<rect x="432" y="514" width="18" height="8" fill="#0b000b"/>
<rect x="432" y="522" width="18" height="8" fill="#09000a"/>
<rect x="432" y="530" width="18" height="8" fill="#080008"/>
<rect x="432" y="538" width="18" height="8" fill="#070007"/>
<rect x="432" y="546" width="18" height="8" fill="#060006"/>
<rect x="432" y="554" width="18" height="8" fill="#050005"/>
<rect x="432" y="562" width="18" height="8" fill="#040004"/>
<rect x="432" y="570" width="18" height="8" fill="#030004"/>
<rect x="432" y="578" width="18" height="24" fill="#030003"/>
<rect x="432" y="602" width="18" height="216" fill="#020003"/>
<rect x="450" y="170" width="18" height="368" fill="#100011"/>
<rect x="450" y="538" width="18" height="8" fill="#0f0010"/>
<rect x="450" y="546" width="18" height="8" fill="#0e000f"/>
<rect x="450" y="554" width="18" height="8" fill="#0d000e"/>
<rect x="450" y="562" width="18" height="8" fill="#0c000c"/>
<rect x="450" y="570" width="18" height="8" fill="#09000a"/>
<rect x="450" y="578" width="18" height="8" fill="#070007"/>
<rect x="450" y="586" width="18" height="232" fill="#020002"/>
<rect x="468" y="170" width="18" height="8" fill="#070007"/>
<rect x="468" y="178" width="18" height="232" fill="#220023"/>
<rect x="468" y="410" width="18" height="48" fill="#210023"/>
<rect x="468" y="458" width="18" height="8" fill="#210022"/>
<rect x="468" y="466" width="18" height="32" fill="#200022"/>
<rect x="468" y="498" width="18" height="16" fill="#1f0021"/>
<rect x="468" y="514" width="18" height="8" fill="#1f0020"/>
<rect x="468" y="522" width="18" height="16" fill="#1e0020"/>
<rect x="468" y="538" width="18" height="16" fill="#1d001f"/>
<rect x="468" y="554" width="18" height="8" fill="#1d001e"/>
<rect x="468" y="562" width="18" height="8" fill="#1c001e"/>
<rect x="468" y="570" width="18" height="8" fill="#1c001d"/>
<rect x="468" y="578" width="18" height="8" fill="#1b001c"/>
<rect x="468" y="586" width="18" height="8" fill="#1a001c"/>
<rect x="468" y="594" width="18" height="8" fill="#1a001b"/>
<rect x="468" y="602" width="18" height="32" fill="#19001b"/>
<rect x="468" y="634" width="18" height="96" fill="#19001a"/>
<rect x="468" y="730" width="18" height="88" fill="#020003"/>
<rect x="486" y="170" width="18" height="24" fill="#100011"/>
<rect x="486" y="194" width="18" height="304" fill="#2c002f"/>
<rect x="486" y="498" width="18" height="16" fill="#2c002e"/>
<rect x="486" y="514" width="18" height="16" fill="#2b002e"/>
<rect x="486" y="530" width="18" height="16" fill="#2b002d"/>
<rect x="486" y="546" width="18" height="16" fill="#2a002d"/>
<rect x="486" y="562" width="18" height="16" fill="#2a002c"/>
<rect x="486" y="578" width="18" height="8" fill="#29002c"/>
<rect x="486" y="586" width="18" height="40" fill="#29002b"/>
<rect x="486" y="626" width="18" height="16" fill="#28002b"/>
<rect x="486" y="642" width="18" height="40" fill="#28002a"/>
<rect x="486" y="682" width="18" height="8" fill="#27002a"/>
<rect x="486" y="690" width="18" height="40" fill="#270029"/>
<rect x="486" y="730" width="18" height="8" fill="#260029"/>
<rect x="486" y="738" width="18" height="80" fill="#020003"/>
<rect x="504" y="170" width="18" height="32" fill="#100011"/>
<rect x="504" y="202" width="18" height="168" fill="#39003c"/>
<rect x="504" y="370" width="18" height="8" fill="#39003d"/>
<rect x="504" y="378" width="18" height="8" fill="#3a003d"/>
<rect x="504" y="386" width="18" height="8" fill="#3b003e"/>
<rect x="504" y="394" width="18" height="8" fill="#3d0040"/>
<rect x="504" y="402" width="18" height="8" fill="#3e0042"/>
<rect x="504" y="410" width="18" height="8" fill="#400044"/>
<rect x="504" y="418" width="18" height="8" fill="#430047"/>
<rect x="504" y="426" width="18" height="8" fill="#47004b"/>
<rect x="504" y="434" width="18" height="8" fill="#43004f"/>
<rect x="504" y="442" width="18" height="8" fill="#3f0052"/>
<rect x="504" y="450" width="18" height="8" fill="#3b0054"/>
<rect x="504" y="458" width="18" height="8" fill="#390055"/>
<rect x="504" y="466" width="18" height="72" fill="#380056"/>
<rect x="504" y="538" width="18" height="8" fill="#3a0055"/>
<rect x="504" y="546" width="18" height="8" fill="#3c0053"/>
<rect x="504" y="554" width="18" height="8" fill="#400051"/>
<rect x="504" y="562" width="18" height="8" fill="#43004f"/>
<rect x="504" y="570" width="18" height="8" fill="#45004e"/>
<rect x="504" y="578" width="18" height="8" fill="#46004d"/>
<rect x="504" y="586" width="18" height="8" fill="#46004a"/>
<rect x="504" y="594" width="18" height="8" fill="#420045"/>
<rect x="504" y="602" width="18" height="8" fill="#3d0040"/>
<rect x="504" y="610" width="18" height="8" fill="#39003c"/>
<rect x="504" y="618" width="18" height="8" fill="#360039"/>
<rect x="504" y="626" width="18" height="24" fill="#340037"/>
<rect x="504" y="650" width="18" height="8" fill="#340036"/>
<rect x="504" y="658" width="18" height="32" fill="#330036"/>
<rect x="504" y="690" width="18" height="8" fill="#330035"/>
<rect x="504" y="698" width="18" height="24" fill="#320035"/>
<rect x="504" y="722" width="18" height="16" fill="#320034"/>
<rect x="504" y="738" width="18" height="16" fill="#310034"/>
<rect x="504" y="754" width="18" height="64" fill="#020003"/>
<rect x="522" y="170" width="18" height="48" fill="#100011"/>
<rect x="522" y="218" width="18" height="80" fill="#43004f"/>
<rect x="522" y="298" width="18" height="8" fill="#420050"/>
<rect x="522" y="306" width="18" height="8" fill="#410050"/>
<rect x="522" y="314" width="18" height="8" fill="#3f0051"/>
<rect x="522" y="322" width="18" height="8" fill="#3e0052"/>
<rect x="522" y="330" width="18" height="8" fill="#3c0053"/>
<rect x="522" y="338" width="18" height="8" fill="#3b0054"/>
<rect x="522" y="346" width="18" height="8" fill="#390055"/>
<rect x="522" y="354" width="18" height="8" fill="#380056"/>
<rect x="522" y="362" width="18" height="8" fill="#370057"/>
<rect x="522" y="370" width="18" height="8" fill="#350058"/>
<rect x="522" y="378" width="18" height="8" fill="#33005a"/>
<rect x="522" y="386" width="18" height="8" fill="#30005d"/>
<rect x="522" y="394" width="18" height="8" fill="#2c0060"/>
<rect x="522" y="402" width="18" height="8" fill="#290063"/>
<rect x="522" y="410" width="18" height="8" fill="#270065"/>
<rect x="522" y="418" width="18" height="8" fill="#250067"/>
<rect x="522" y="426" width="18" height="8" fill="#230069"/>
<rect x="522" y="434" width="18" height="8" fill="#21006b"/>
<rect x="522" y="442" width="18" height="8" fill="#1f006d"/>
<rect x="522" y="450" width="18" height="8" fill="#1e006e"/>
<rect x="522" y="458" width="18" height="72" fill="#1d006f"/>
<rect x="522" y="530" width="18" height="8" fill="#1e006e"/>
<rect x="522" y="538" width="18" height="8" fill="#1f006d"/>
<rect x="522" y="546" width="18" height="8" fill="#20006c"/>
<rect x="522" y="554" width="18" height="8" fill="#21006b"/>
<rect x="522" y="562" width="18" height="8" fill="#230069"/>
<rect x="522" y="570" width="18" height="8" fill="#250067"/>
<rect x="522" y="578" width="18" height="8" fill="#280065"/>
<rect x="522" y="586" width="18" height="8" fill="#2b0061"/>
<rect x="522" y="594" width="18" height="8" fill="#30005d"/>
<rect x="522" y="602" width="18" height="8" fill="#360058"/>
<rect x="522" y="610" width="18" height="8" fill="#3d0053"/>
<rect x="522" y="618" width="18" height="8" fill="#44004f"/>
<rect x="522" y="626" width="18" height="8" fill="#450049"/>
<rect x="522" y="634" width="18" height="8" fill="#410044"/>
<rect x="522" y="642" width="18" height="8" fill="#3e0042"/>
<rect x="522" y="650" width="18" height="16" fill="#3e0041"/>
<rect x="522" y="666" width="18" height="16" fill="#3d0041"/>
<rect x="522" y="682" width="18" height="24" fill="#3d0040"/>
<rect x="522" y="706" width="18" height="8" fill="#3c0040"/>
<rect x="522" y="714" width="18" height="32" fill="#3c003f"/>
<rect x="522" y="746" width="18" height="8" fill="#3b003f"/>
<rect x="522" y="754" width="18" height="16" fill="#3b003e"/>
<rect x="522" y="770" width="18" height="48" fill="#020003"/>
<rect x="540" y="170" width="18" height="64" fill="#100011"/>
<rect x="540" y="234" width="18" height="8" fill="#31005c"/>
<rect x="540" y="242" width="18" height="16" fill="#30005d"/>
<rect x="540" y="258" width="18" height="8" fill="#2f005e"/>
<rect x="540" y="266" width="18" height="16" fill="#2e005f"/>
<rect x="540" y="282" width="18" height="16" fill="#2d0060"/>
<rect x="540" y="298" width="18" height="8" fill="#2c0061"/>
<rect x="540" y="306" width="18" height="8" fill="#2b0061"/>
<rect x="540" y="314" width="18" height="8" fill="#2b0062"/>
<rect x="540" y="322" width="18" height="8" fill="#2a0062"/>
<rect x="540" y="330" width="18" height="8" fill="#2a0063"/>
<rect x="540" y="338" width="18" height="8" fill="#290063"/>
<rect x="540" y="346" width="18" height="16" fill="#280064"/>
<rect x="540" y="362" width="18" height="8" fill="#270065"/>
<rect x="540" y="370" width="18" height="8" fill="#260066"/>
<rect x="540" y="378" width="18" height="8" fill="#240068"/>
<rect x="540" y="386" width="18" height="8" fill="#20006c"/>
<rect x="540" y="394" width="18" height="8" fill="#1b0071"/>
<rect x="540" y="402" width="18" height="8" fill="#150077"/>
<rect x="540" y="410" width="18" height="8" fill="#10007c"/>
<rect x="540" y="418" width="18" height="8" fill="#0a0082"/>
<rect x="540" y="426" width="18" height="8" fill="#060086"/>
<rect x="540" y="434" width="18" height="136" fill="#040088"/>
<rect x="540" y="570" width="18" height="8" fill="#060086"/>
<rect x="540" y="578" width="18" height="8" fill="#080084"/>
<rect x="540" y="586" width="18" height="8" fill="#0c0080"/>
<rect x="540" y="594" width="18" height="8" fill="#12007a"/>
<rect x="540" y="602" width="18" height="8" fill="#180074"/>
<rect x="540" y="610" width="18" height="8" fill="#1f006d"/>
<rect x="540" y="618" width="18" height="8" fill="#240068"/>
<rect x="540" y="626" width="18" height="8" fill="#270065"/>
<rect x="540" y="634" width="18" height="8" fill="#2a0062"/>
<rect x="540" y="642" width="18" height="8" fill="#2d0060"/>
<rect x="540" y="650" width="18" height="8" fill="#2f005e"/>
<rect x="540" y="658" width="18" height="8" fill="#32005b"/>
<rect x="540" y="666" width="18" height="8" fill="#34005a"/>
<rect x="540" y="674" width="18" height="8" fill="#360058"/>
<rect x="540" y="682" width="18" height="8" fill="#380056"/>
<rect x="540" y="690" width="18" height="8" fill="#3a0055"/>
<rect x="540" y="698" width="18" height="8" fill="#3c0054"/>
<rect x="540" y="706" width="18" height="8" fill="#3e0052"/>
<rect x="540" y="714" width="18" height="8" fill="#3f0051"/>
<rect x="540" y="722" width="18" height="8" fill="#410050"/>
<rect x="540" y="730" width="18" height="8" fill="#43004f"/>
<rect x="540" y="738" width="18" height="8" fill="#44004e"/>
<rect x="540" y="746" width="18" height="8" fill="#46004d"/>
<rect x="540" y="754" width="18" height="8" fill="#47004c"/>
<rect x="540" y="762" width="18" height="8" fill="#47004b"/>
<rect x="540" y="770" width="18" height="8" fill="#46004a"/>
<rect x="540" y="778" width="18" height="8" fill="#460049"/>
<rect x="540" y="786" width="18" height="32" fill="#020003"/>
<rect x="558" y="170" width="18" height="80" fill="#100011"/>
<rect x="558" y="250" width="18" height="8" fill="#2b0061"/>
<rect x="558" y="258" width="18" height="8" fill="#2a0062"/>
<rect x="558" y="266" width="18" height="8" fill="#290064"/>
<rect x="558" y="274" width="18" height="8" fill="#270065"/>
<rect x="558" y="282" width="18" height="8" fill="#260066"/>
<rect x="558" y="290" width="18" height="8" fill="#240068"/>
<rect x="558" y="298" width="18" height="8" fill="#230069"/>
<rect x="558" y="306" width="18" height="8" fill="#22006a"/>
<rect x="558" y="314" width="18" height="8" fill="#20006c"/>
<rect x="558" y="322" width="18" height="8" fill="#1f006d"/>
<rect x="558" y="330" width="18" height="8" fill="#1d006f"/>
<rect x="558" y="338" width="18" height="8" fill="#1c0070"/>
<rect x="558" y="346" width="18" height="8" fill="#1b0071"/>
<rect x="558" y="354" width="18" height="8" fill="#190073"/>
<rect x="558" y="362" width="18" height="8" fill="#180074"/>
<rect x="558" y="370" width="18" height="8" fill="#160076"/>
<rect x="558" y="378" width="18" height="8" fill="#150077"/>
<rect x="558" y="386" width="18" height="8" fill="#12007a"/>
<rect x="558" y="394" width="18" height="8" fill="#0e007e"/>
<rect x="558" y="402" width="18" height="8" fill="#090083"/>
<rect x="558" y="410" width="18" height="8" fill="#060086"/>
<rect x="558" y="418" width="18" height="8" fill="#030089"/>
<rect x="558" y="426" width="18" height="8" fill="#01008b"/>
<rect x="558" y="434" width="18" height="24" fill="#00008c"/>
<rect x="558" y="458" width="18" height="8" fill="#00018b"/>
<rect x="558" y="466" width="18" height="8" fill="#000588"/>
<rect x="558" y="474" width="18" height="8" fill="#000d82"/>
<rect x="558" y="482" width="18" height="8" fill="#00167a"/>
<rect x="558" y="490" width="18" height="8" fill="#002271"/>
<rect x="558" y="498" width="18" height="8" fill="#002d69"/>
<rect x="558" y="506" width="18" height="8" fill="#003762"/>
<rect x="558" y="514" width="18" height="8" fill="#00405b"/>
<rect x="558" y="522" width="18" height="8" fill="#004754"/>
<rect x="558" y="530" width="18" height="8" fill="#004c4f"/>
<rect x="558" y="538" width="18" height="8" fill="#00504b"/>
<rect x="558" y="546" width="18" height="8" fill="#00514a"/>
<rect x="558" y="554" width="18" height="24" fill="#005149"/>
<rect x="558" y="578" width="18" height="8" fill="#00504b"/>
<rect x="558" y="586" width="18" height="8" fill="#004754"/>
<rect x="558" y="594" width="18" height="8" fill="#003266"/>
<rect x="558" y="602" width="18" height="8" fill="#00177a"/>
<rect x="558" y="610" width="18" height="8" fill="#000489"/>
<rect x="558" y="618" width="18" height="8" fill="#070085"/>
<rect x="558" y="626" width="18" height="8" fill="#0e007e"/>
<rect x="558" y="634" width="18" height="8" fill="#140078"/>
<rect x="558" y="642" width="18" height="8" fill="#190073"/>
<rect x="558" y="650" width="18" height="8" fill="#1e006e"/>
<rect x="558" y="658" width="18" height="8" fill="#21006b"/>
<rect x="558" y="666" width="18" height="8" fill="#240068"/>
<rect x="558" y="674" width="18" height="8" fill="#260066"/>
<rect x="558" y="682" width="18" height="8" fill="#290064"/>
<rect x="558" y="690" width="18" height="8" fill="#2b0061"/>
<rect x="558" y="698" width="18" height="8" fill="#2e005f"/>
<rect x="558" y="706" width="18" height="8" fill="#31005c"/>
<rect x="558" y="714" width="18" height="8" fill="#33005b"/>
<rect x="558" y="722" width="18" height="8" fill="#350059"/>
<rect x="558" y="730" width="18" height="8" fill="#360058"/>
<rect x="558" y="738" width="18" height="8" fill="#370057"/>
<rect x="558" y="746" width="18" height="8" fill="#380056"/>
<rect x="558" y="754" width="18" height="8" fill="#3b0054"/>
<rect x="558" y="762" width="18" height="8" fill="#3d0053"/>
<rect x="558" y="770" width="18" height="8" fill="#400051"/>
<rect x="558" y="778" width="18" height="8" fill="#43004f"/>
<rect x="558" y="786" width="18" height="8" fill="#45004e"/>
<rect x="558" y="794" width="18" height="8" fill="#48004c"/>
<rect x="558" y="802" width="18" height="16" fill="#020003"/>
<rect x="576" y="170" width="18" height="96" fill="#100011"/>
<rect x="576" y="266" width="18" height="8" fill="#2a0062"/>
<rect x="576" y="274" width="18" height="8" fill="#290063"/>
<rect x="576" y="282" width="18" height="8" fill="#280064"/>
<rect x="576" y="290" width="18" height="8" fill="#270065"/>
<rect x="576" y="298" width="18" height="8" fill="#260066"/>
<rect x="576" y="306" width="18" height="8" fill="#250067"/>
<rect x="576" y="314" width="18" height="8" fill="#240068"/>
<rect x="576" y="322" width="18" height="8" fill="#230069"/>
<rect x="576" y="330" width="18" height="8" fill="#21006b"/>
<rect x="576" y="338" width="18" height="8" fill="#1f006d"/>
<rect x="576" y="346" width="18" height="8" fill="#1d006f"/>
<rect x="576" y="354" width="18" height="8" fill="#1a0072"/>
<rect x="576" y="362" width="18" height="8" fill="#170075"/>
<rect x="576" y="370" width="18" height="8" fill="#140078"/>
<rect x="576" y="378" width="18" height="8" fill="#12007a"/>
<rect x="576" y="386" width="18" height="8" fill="#0f007d"/>
<rect x="576" y="394" width="18" height="8" fill="#0c0080"/>
<rect x="576" y="402" width="18" height="8" fill="#090083"/>
<rect x="576" y="410" width="18" height="8" fill="#050087"/>
<rect x="576" y="418" width="18" height="8" fill="#02008a"/>
<rect x="576" y="426" width="18" height="8" fill="#000389"/>
<rect x="576" y="434" width="18" height="8" fill="#000b83"/>
<rect x="576" y="442" width="18" height="8" fill="#00137d"/>
<rect x="576" y="450" width="18" height="8" fill="#001b76"/>
<rect x="576" y="458" width="18" height="8" fill="#00256f"/>
<rect x="576" y="466" width="18" height="8" fill="#002d6a"/>
<rect x="576" y="474" width="18" height="8" fill="#003564"/>
<rect x="576" y="482" width="18" height="8" fill="#003d5e"/>
<rect x="576" y="490" width="18" height="8" fill="#004457"/>
<rect x="576" y="498" width="18" height="8" fill="#004d4e"/>
<rect x="576" y="506" width="18" height="8" fill="#005446"/>
<rect x="576" y="514" width="18" height="8" fill="#005a3d"/>
<rect x="576" y="522" width="18" height="8" fill="#005f36"/>
<rect x="576" y="530" width="18" height="8" fill="#00642f"/>
<rect x="576" y="538" width="18" height="8" fill="#006a26"/>
<rect x="576" y="546" width="18" height="8" fill="#00701f"/>
<rect x="576" y="554" width="18" height="8" fill="#017418"/>
<rect x="576" y="562" width="18" height="8" fill="#027911"/>
<rect x="576" y="570" width="18" height="8" fill="#037e09"/>
<rect x="576" y="578" width="18" height="8" fill="#048303"/>
<rect x="576" y="586" width="18" height="8" fill="#048500"/>
<rect x="576" y="594" width="18" height="8" fill="#048303"/>
<rect x="576" y="602" width="18" height="8" fill="#027b0f"/>
<rect x="576" y="610" width="18" height="8" fill="#006d22"/>
<rect x="576" y="618" width="18" height="8" fill="#00583f"/>
<rect x="576" y="626" width="18" height="8" fill="#003f5c"/>
<rect x="576" y="634" width="18" height="8" fill="#001e74"/>
<rect x="576" y="642" width="18" height="8" fill="#000985"/>
<rect x="576" y="650" width="18" height="8" fill="#030089"/>
<rect x="576" y="658" width="18" height="8" fill="#080084"/>
<rect x="576" y="666" width="18" height="8" fill="#0c0080"/>
<rect x="576" y="674" width="18" height="8" fill="#11007b"/>
<rect x="576" y="682" width="18" height="8" fill="#150077"/>
<rect x="576" y="690" width="18" height="8" fill="#1a0072"/>
<rect x="576" y="698" width="18" height="8" fill="#1e006e"/>
<rect x="576" y="706" width="18" height="8" fill="#22006a"/>
<rect x="576" y="714" width="18" height="8" fill="#260066"/>
<rect x="576" y="722" width="18" height="8" fill="#290063"/>
<rect x="576" y="730" width="18" height="8" fill="#2c0061"/>
<rect x="576" y="738" width="18" height="8" fill="#2f005e"/>
<rect x="576" y="746" width="18" height="8" fill="#31005c"/>
<rect x="576" y="754" width="18" height="8" fill="#34005a"/>
<rect x="576" y="762" width="18" height="8" fill="#360058"/>
<rect x="576" y="770" width="18" height="8" fill="#390056"/>
<rect x="576" y="778" width="18" height="8" fill="#3c0053"/>
<rect x="576" y="786" width="18" height="8" fill="#400051"/>
<rect x="576" y="794" width="18" height="8" fill="#43004f"/>
<rect x="576" y="802" width="18" height="8" fill="#47004d"/>
<rect x="576" y="810" width="18" height="8" fill="#46004a"/>
<rect x="594" y="170" width="18" height="112" fill="#100011"/>
<rect x="594" y="282" width="18" height="8" fill="#2c0060"/>
<rect x="594" y="290" width="18" height="8" fill="#2a0062"/>
<rect x="594" y="298" width="18" height="8" fill="#290064"/>
<rect x="594" y="306" width="18" height="8" fill="#270065"/>
<rect x="594" y="314" width="18" height="8" fill="#250067"/>
<rect x="594" y="322" width="18" height="8" fill="#230069"/>
<rect x="594" y="330" width="18" height="8" fill="#21006b"/>
<rect x="594" y="338" width="18" height="8" fill="#1f006d"/>
<rect x="594" y="346" width="18" height="8" fill="#1d006f"/>
<rect x="594" y="354" width="18" height="8" fill="#1b0071"/>
<rect x="594" y="362" width="18" height="8" fill="#180074"/>
<rect x="594" y="370" width="18" height="8" fill="#150077"/>
<rect x="594" y="378" width="18" height="8" fill="#12007a"/>
<rect x="594" y="386" width="18" height="8" fill="#0f007d"/>
<rect x="594" y="394" width="18" height="8" fill="#0c0080"/>
<rect x="594" y="402" width="18" height="8" fill="#080084"/>
<rect x="594" y="410" width="18" height="8" fill="#040088"/>
<rect x="594" y="418" width="18" height="8" fill="#00018b"/>
<rect x="594" y="426" width="18" height="8" fill="#000a84"/>
<rect x="594" y="434" width="18" height="8" fill="#00137c"/>
<rect x="594" y="442" width="18" height="8" fill="#001c76"/>
<rect x="594" y="450" width="18" height="8" fill="#002570"/>
<rect x="594" y="458" width="18" height="8" fill="#002c6a"/>
<rect x="594" y="466" width="18" height="8" fill="#003564"/>
<rect x="594" y="474" width="18" height="8" fill="#003e5d"/>
<rect x="594" y="482" width="18" height="8" fill="#004358"/>
<rect x="594" y="490" width="18" height="8" fill="#004556"/>
<rect x="594" y="498" width="18" height="8" fill="#004a51"/>
<rect x="594" y="506" width="18" height="8" fill="#00504b"/>
<rect x="594" y="514" width="18" height="8" fill="#005347"/>
<rect x="594" y="522" width="18" height="8" fill="#005544"/>
<rect x="594" y="530" width="18" height="8" fill="#005840"/>
<rect x="594" y="538" width="18" height="8" fill="#005d39"/>
<rect x="594" y="546" width="18" height="8" fill="#006133"/>
<rect x="594" y="554" width="18" height="8" fill="#00672b"/>
<rect x="594" y="562" width="18" height="8" fill="#00701f"/>
<rect x="594" y="570" width="18" height="8" fill="#027912"/>
<rect x="594" y="578" width="18" height="8" fill="#038205"/>
<rect x="594" y="586" width="18" height="8" fill="#0a8700"/>
<rect x="594" y="594" width="18" height="8" fill="#148a00"/>
<rect x="594" y="602" width="18" height="8" fill="#1e8d00"/>
<rect x="594" y="610" width="18" height="8" fill="#238f00"/>
<rect x="594" y="618" width="18" height="8" fill="#1d8d00"/>
<rect x="594" y="626" width="18" height="8" fill="#098600"/>
<rect x="594" y="634" width="18" height="8" fill="#027a10"/>
<rect x="594" y="642" width="18" height="8" fill="#00672b"/>
<rect x="594" y="650" width="18" height="8" fill="#004d4e"/>
<rect x="594" y="658" width="18" height="8" fill="#002b6b"/>
<rect x="594" y="666" width="18" height="8" fill="#000e81"/>
<rect x="594" y="674" width="18" height="8" fill="#030089"/>
<rect x="594" y="682" width="18" height="8" fill="#0b0081"/>
<rect x="594" y="690" width="18" height="8" fill="#11007b"/>
<rect x="594" y="698" width="18" height="8" fill="#150077"/>
<rect x="594" y="706" width="18" height="8" fill="#1a0072"/>
<rect x="594" y="714" width="18" height="8" fill="#1d006f"/>
<rect x="594" y="722" width="18" height="8" fill="#21006b"/>
<rect x="594" y="730" width="18" height="8" fill="#230069"/>
<rect x="594" y="738" width="18" height="8" fill="#250067"/>
<rect x="594" y="746" width="18" height="8" fill="#270065"/>
<rect x="594" y="754" width="18" height="8" fill="#290064"/>
<rect x="594" y="762" width="18" height="8" fill="#2b0062"/>
<rect x="594" y="770" width="18" height="8" fill="#2d0060"/>
<rect x="594" y="778" width="18" height="8" fill="#30005d"/>
<rect x="594" y="786" width="18" height="8" fill="#33005b"/>
<rect x="594" y="794" width="18" height="8" fill="#360058"/>
<rect x="594" y="802" width="18" height="8" fill="#3a0055"/>
<rect x="594" y="810" width="18" height="8" fill="#3f0052"/>
<rect x="612" y="170" width="18" height="120" fill="#100011"/>
<rect x="612" y="290" width="18" height="8" fill="#2f005e"/>
<rect x="612" y="298" width="18" height="8" fill="#2d0060"/>
<rect x="612" y="306" width="18" height="8" fill="#2a0062"/>
<rect x="612" y="314" width="18" height="8" fill="#280064"/>
<rect x="612" y="322" width="18" height="8" fill="#260066"/>
<rect x="612" y="330" width="18" height="8" fill="#230069"/>
<rect x="612" y="338" width="18" height="8" fill="#21006b"/>
<rect x="612" y="346" width="18" height="8" fill="#1e006e"/>
<rect x="612" y="354" width="18" height="8" fill="#1b0071"/>
<rect x="612" y="362" width="18" height="8" fill="#180074"/>
<rect x="612" y="370" width="18" height="8" fill="#140078"/>
<rect x="612" y="378" width="18" height="8" fill="#11007b"/>
<rect x="612" y="386" width="18" height="8" fill="#0d007f"/>
<rect x="612" y="394" width="18" height="8" fill="#090083"/>
<rect x="612" y="402" width="18" height="8" fill="#040088"/>
<rect x="612" y="410" width="18" height="8" fill="#000588"/>
<rect x="612" y="418" width="18" height="8" fill="#00147c"/>
<rect x="612" y="426" width="18" height="8" fill="#002470"/>
<rect x="612" y="434" width="18" height="8" fill="#003366"/>
<rect x="612" y="442" width="18" height="8" fill="#00405b"/>
<rect x="612" y="450" width="18" height="8" fill="#004c4f"/>
<rect x="612" y="458" width="18" height="8" fill="#005643"/>
<rect x="612" y="466" width="18" height="8" fill="#005e38"/>
<rect x="612" y="474" width="18" height="8" fill="#006330"/>
<rect x="612" y="482" width="18" height="8" fill="#00672b"/>
<rect x="612" y="490" width="18" height="24" fill="#00672a"/>
<rect x="612" y="514" width="18" height="8" fill="#00682a"/>
<rect x="612" y="522" width="18" height="8" fill="#006a27"/>
<rect x="612" y="530" width="18" height="8" fill="#006c24"/>
<rect x="612" y="538" width="18" height="8" fill="#006e22"/>
<rect x="612" y="546" width="18" height="8" fill="#006f20"/>
<rect x="612" y="554" width="18" height="8" fill="#01711c"/>
<rect x="612" y="562" width="18" height="8" fill="#017615"/>
<rect x="612" y="570" width="18" height="8" fill="#037d0c"/>
<rect x="612" y="578" width="18" height="8" fill="#048303"/>
<rect x="612" y="586" width="18" height="8" fill="#0b8700"/>
<rect x="612" y="594" width="18" height="8" fill="#168a00"/>
<rect x="612" y="602" width="18" height="8" fill="#289000"/>
<rect x="612" y="610" width="18" height="8" fill="#419800"/>
<rect x="612" y="618" width="18" height="8" fill="#589f00"/>
<rect x="612" y="626" width="18" height="16" fill="#67a300"/>
<rect x="612" y="642" width="18" height="8" fill="#579e00"/>
<rect x="612" y="650" width="18" height="8" fill="#369400"/>
<rect x="612" y="658" width="18" height="8" fill="#058500"/>
<rect x="612" y="666" width="18" height="8" fill="#006e21"/>
<rect x="612" y="674" width="18" height="8" fill="#00504b"/>
<rect x="612" y="682" width="18" height="8" fill="#002b6b"/>
<rect x="612" y="690" width="18" height="8" fill="#000d82"/>
<rect x="612" y="698" width="18" height="8" fill="#040088"/>
<rect x="612" y="706" width="18" height="8" fill="#0d007f"/>
<rect x="612" y="714" width="18" height="8" fill="#130079"/>
<rect x="612" y="722" width="18" height="8" fill="#170075"/>
<rect x="612" y="730" width="18" height="8" fill="#1b0071"/>
<rect x="612" y="738" width="18" height="8" fill="#1d006f"/>
<rect x="612" y="746" width="18" height="8" fill="#1f006d"/>
<rect x="612" y="754" width="18" height="8" fill="#22006a"/>
<rect x="612" y="762" width="18" height="8" fill="#240068"/>
<rect x="612" y="770" width="18" height="8" fill="#260066"/>
<rect x="612" y="778" width="18" height="8" fill="#290063"/>
<rect x="612" y="786" width="18" height="8" fill="#2c0061"/>
<rect x="612" y="794" width="18" height="8" fill="#2f005e"/>
<rect x="612" y="802" width="18" height="8" fill="#32005b"/>
<rect x="612" y="810" width="18" height="8" fill="#350058"/>
<rect x="630" y="170" width="18" height="128" fill="#100011"/>
<rect x="630" y="298" width="18" height="8" fill="#2f005e"/>
<rect x="630" y="306" width="18" height="8" fill="#2c0061"/>
<rect x="630" y="314" width="18" height="8" fill="#290063"/>
<rect x="630" y="322" width="18" height="8" fill="#260066"/>
<rect x="630" y="330" width="18" height="8" fill="#230069"/>
<rect x="630" y="338" width="18" height="8" fill="#21006b"/>
<rect x="630" y="346" width="18" height="8" fill="#1e006e"/>
<rect x="630" y="354" width="18" height="8" fill="#1b0071"/>
<rect x="630" y="362" width="18" height="8" fill="#180074"/>
<rect x="630" y="370" width="18" height="8" fill="#140078"/>
<rect x="630" y="378" width="18" height="8" fill="#10007c"/>
<rect x="630" y="386" width="18" height="8" fill="#0b0081"/>
<rect x="630" y="394" width="18" height="8" fill="#060086"/>
<rect x="630" y="402" width="18" height="8" fill="#00018b"/>
<rect x="630" y="410" width="18" height="8" fill="#000e81"/>
<rect x="630" y="418" width="18" height="8" fill="#001d75"/>
<rect x="630" y="426" width="18" height="8" fill="#003167"/>
<rect x="630" y="434" width="18" height="8" fill="#004358"/>
<rect x="630" y="442" width="18" height="8" fill="#00504b"/>
<rect x="630" y="450" width="18" height="8" fill="#00593e"/>
<rect x="630" y="458" width="18" height="8" fill="#00642f"/>
<rect x="630" y="466" width="18" height="8" fill="#006f1f"/>
<rect x="630" y="474" width="18" height="8" fill="#027912"/>
<rect x="630" y="482" width="18" height="8" fill="#038204"/>
<rect x="630" y="490" width="18" height="8" fill="#0d8800"/>
<rect x="630" y="498" width="18" height="8" fill="#158a00"/>
<rect x="630" y="506" width="18" height="8" fill="#188b00"/>
<rect x="630" y="514" width="18" height="24" fill="#198c00"/>
<rect x="630" y="538" width="18" height="8" fill="#188b00"/>
<rect x="630" y="546" width="18" height="8" fill="#118900"/>
<rect x="630" y="554" width="18" height="8" fill="#078600"/>
<rect x="630" y="562" width="18" height="8" fill="#048402"/>
<rect x="630" y="570" width="18" height="16" fill="#048303"/>
<rect x="630" y="586" width="18" height="8" fill="#048402"/>
<rect x="630" y="594" width="18" height="8" fill="#0b8700"/>
<rect x="630" y="602" width="18" height="8" fill="#1b8c00"/>
<rect x="630" y="610" width="18" height="8" fill="#2a9100"/>
<rect x="630" y="618" width="18" height="8" fill="#3a9500"/>
<rect x="630" y="626" width="18" height="8" fill="#4e9c00"/>
<rect x="630" y="634" width="18" height="8" fill="#65a300"/>
<rect x="630" y="642" width="18" height="8" fill="#78a900"/>
<rect x="630" y="650" width="18" height="8" fill="#83ad00"/>
<rect x="630" y="658" width="18" height="8" fill="#84ad00"/>
<rect x="630" y="666" width="18" height="8" fill="#75a800"/>
<rect x="630" y="674" width="18" height="8" fill="#4e9c00"/>
<rect x="630" y="682" width="18" height="8" fill="#138a00"/>
<rect x="630" y="690" width="18" height="8" fill="#00701e"/>
<rect x="630" y="698" width="18" height="8" fill="#00514a"/>
<rect x="630" y="706" width="18" height="8" fill="#002c6b"/>
<rect x="630" y="714" width="18" height="8" fill="#000e81"/>
<rect x="630" y="722" width="18" height="8" fill="#030089"/>
<rect x="630" y="730" width="18" height="8" fill="#0c0080"/>
<rect x="630" y="738" width="18" height="8" fill="#11007b"/>
<rect x="630" y="746" width="18" height="8" fill="#150077"/>
<rect x="630" y="754" width="18" height="8" fill="#190073"/>
<rect x="630" y="762" width="18" height="8" fill="#1c0070"/>
<rect x="630" y="770" width="18" height="8" fill="#20006c"/>
<rect x="630" y="778" width="18" height="8" fill="#230069"/>
<rect x="630" y="786" width="18" height="8" fill="#260066"/>
<rect x="630" y="794" width="18" height="8" fill="#290063"/>
<rect x="630" y="802" width="18" height="8" fill="#2c0061"/>
<rect x="630" y="810" width="18" height="8" fill="#2f005e"/>
<rect x="648" y="170" width="18" height="128" fill="#100011"/>
<rect x="648" y="298" width="18" height="8" fill="#2f005e"/>
<rect x="648" y="306" width="18" height="8" fill="#2b0061"/>
<rect x="648" y="314" width="18" height="8" fill="#270065"/>
<rect x="648" y="322" width="18" height="8" fill="#240068"/>
<rect x="648" y="330" width="18" height="8" fill="#21006b"/>
<rect x="648" y="338" width="18" height="8" fill="#1e006e"/>
<rect x="648" y="346" width="18" height="8" fill="#1b0071"/>
<rect x="648" y="354" width="18" height="8" fill="#180074"/>
<rect x="648" y="362" width="18" height="8" fill="#150077"/>
<rect x="648" y="370" width="18" height="8" fill="#12007a"/>
<rect x="648" y="378" width="18" height="8" fill="#0e007e"/>
<rect x="648" y="386" width="18" height="8" fill="#090083"/>
<rect x="648" y="394" width="18" height="8" fill="#040088"/>
<rect x="648" y="402" width="18" height="8" fill="#00038a"/>
<rect x="648" y="410" width="18" height="8" fill="#00107f"/>
<rect x="648" y="418" width="18" height="8" fill="#002172"/>
<rect x="648" y="426" width="18" height="8" fill="#003663"/>
<rect x="648" y="434" width="18" height="8" fill="#004754"/>
<rect x="648" y="442" width="18" height="8" fill="#005543"/>
<rect x="648" y="450" width="18" height="8" fill="#00642f"/>
<rect x="648" y="458" width="18" height="8" fill="#017419"/>
<rect x="648" y="466" width="18" height="8" fill="#038204"/>
<rect x="648" y="474" width="18" height="8" fill="#198c00"/>
<rect x="648" y="482" width="18" height="8" fill="#2c9100"/>
<rect x="648" y="490" width="18" height="8" fill="#399500"/>
<rect x="648" y="498" width="18" height="8" fill="#3f9700"/>
<rect x="648" y="506" width="18" height="16" fill="#419800"/>
<rect x="648" y="522" width="18" height="8" fill="#3f9700"/>
<rect x="648" y="530" width="18" height="8" fill="#399500"/>
<rect x="648" y="538" width="18" height="8" fill="#2f9200"/>
<rect x="648" y="546" width="18" height="8" fill="#289000"/>
<rect x="648" y="554" width="18" height="8" fill="#258f00"/>
<rect x="648" y="562" width="18" height="8" fill="#1e8d00"/>
<rect x="648" y="570" width="18" height="8" fill="#148a00"/>
<rect x="648" y="578" width="18" height="8" fill="#0e8800"/>
<rect x="648" y="586" width="18" height="32" fill="#0c8700"/>
<rect x="648" y="618" width="18" height="8" fill="#0e8800"/>
<rect x="648" y="626" width="18" height="8" fill="#168a00"/>
<rect x="648" y="634" width="18" height="8" fill="#299000"/>
<rect x="648" y="642" width="18" height="8" fill="#459900"/>
<rect x="648" y="650" width="18" height="8" fill="#64a300"/>
<rect x="648" y="658" width="18" height="8" fill="#7dab00"/>
<rect x="648" y="666" width="18" height="8" fill="#8aaf00"/>
<rect x="648" y="674" width="18" height="8" fill="#89af00"/>
<rect x="648" y="682" width="18" height="8" fill="#75a800"/>
<rect x="648" y="690" width="18" height="8" fill="#469900"/>
<rect x="648" y="698" width="18" height="8" fill="#078600"/>
<rect x="648" y="706" width="18" height="8" fill="#006a27"/>
<rect x="648" y="714" width="18" height="8" fill="#004655"/>
<rect x="648" y="722" width="18" height="8" fill="#001a77"/>
<rect x="648" y="730" width="18" height="8" fill="#00028a"/>
<rect x="648" y="738" width="18" height="8" fill="#070085"/>
<rect x="648" y="746" width="18" height="8" fill="#0d007f"/>
<rect x="648" y="754" width="18" height="8" fill="#11007b"/>
<rect x="648" y="762" width="18" height="8" fill="#150077"/>
<rect x="648" y="770" width="18" height="8" fill="#1a0072"/>
<rect x="648" y="778" width="18" height="8" fill="#1e006e"/>
<rect x="648" y="786" width="18" height="8" fill="#21006b"/>
<rect x="648" y="794" width="18" height="8" fill="#240068"/>
<rect x="648" y="802" width="18" height="8" fill="#270065"/>
<rect x="648" y="810" width="18" height="8" fill="#2a0062"/>
<rect x="666" y="170" width="18" height="120" fill="#100011"/>
<rect x="666" y="290" width="18" height="8" fill="#2c0060"/>
<rect x="666" y="298" width="18" height="8" fill="#2a0063"/>
<rect x="666" y="306" width="18" height="8" fill="#270065"/>
<rect x="666" y="314" width="18" height="8" fill="#240068"/>
<rect x="666" y="322" width="18" height="8" fill="#22006a"/>
<rect x="666" y="330" width="18" height="8" fill="#1f006d"/>
<rect x="666" y="338" width="18" height="8" fill="#1c0070"/>
<rect x="666" y="346" width="18" height="8" fill="#190073"/>
<rect x="666" y="354" width="18" height="8" fill="#170075"/>
<rect x="666" y="362" width="18" height="8" fill="#130079"/>
<rect x="666" y="370" width="18" height="8" fill="#10007c"/>
<rect x="666" y="378" width="18" height="8" fill="#0c0080"/>
<rect x="666" y="386" width="18" height="8" fill="#080084"/>
<rect x="666" y="394" width="18" height="8" fill="#02008a"/>
<rect x="666" y="402" width="18" height="8" fill="#000787"/>
<rect x="666" y="410" width="18" height="8" fill="#00147c"/>
<rect x="666" y="418" width="18" height="8" fill="#00266f"/>
<rect x="666" y="426" width="18" height="8" fill="#003961"/>
<rect x="666" y="434" width="18" height="8" fill="#004c4f"/>
<rect x="666" y="442" width="18" height="8" fill="#005e37"/>
<rect x="666" y="450" width="18" height="8" fill="#01721c"/>
<rect x="666" y="458" width="18" height="8" fill="#048303"/>
<rect x="666" y="466" width="18" height="8" fill="#268f00"/>
<rect x="666" y="474" width="18" height="8" fill="#489a00"/>
<rect x="666" y="482" width="18" height="8" fill="#5ea100"/>
<rect x="666" y="490" width="18" height="8" fill="#67a300"/>
<rect x="666" y="498" width="18" height="8" fill="#69a400"/>
<rect x="666" y="506" width="18" height="8" fill="#67a300"/>
<rect x="666" y="514" width="18" height="8" fill="#60a100"/>
<rect x="666" y="522" width="18" height="8" fill="#549e00"/>
<rect x="666" y="530" width="18" height="8" fill="#439800"/>
<rect x="666" y="538" width="18" height="8" fill="#339300"/>
<rect x="666" y="546" width="18" height="8" fill="#269000"/>
<rect x="666" y="554" width="18" height="8" fill="#1a8c00"/>
<rect x="666" y="562" width="18" height="8" fill="#0b8700"/>
<rect x="666" y="570" width="18" height="8" fill="#048402"/>
<rect x="666" y="578" width="18" height="40" fill="#048303"/>
<rect x="666" y="618" width="18" height="8" fill="#048402"/>
<rect x="666" y="626" width="18" height="8" fill="#098600"/>
<rect x="666" y="634" width="18" height="8" fill="#1b8c00"/>
<rect x="666" y="642" width="18" height="8" fill="#339300"/>
<rect x="666" y="650" width="18" height="8" fill="#4a9b00"/>
<rect x="666" y="658" width="18" height="8" fill="#5ea100"/>
<rect x="666" y="666" width="18" height="8" fill="#6da500"/>
<rect x="666" y="674" width="18" height="8" fill="#72a700"/>
<rect x="666" y="682" width="18" height="8" fill="#65a300"/>
<rect x="666" y="690" width="18" height="8" fill="#419800"/>
<rect x="666" y="698" width="18" height="8" fill="#068600"/>
<rect x="666" y="706" width="18" height="8" fill="#006a27"/>
<rect x="666" y="714" width="18" height="8" fill="#004655"/>
<rect x="666" y="722" width="18" height="8" fill="#001a77"/>
<rect x="666" y="730" width="18" height="8" fill="#00028a"/>
<rect x="666" y="738" width="18" height="8" fill="#070085"/>
<rect x="666" y="746" width="18" height="8" fill="#0d007f"/>
<rect x="666" y="754" width="18" height="8" fill="#11007b"/>
<rect x="666" y="762" width="18" height="8" fill="#150077"/>
<rect x="666" y="770" width="18" height="8" fill="#1a0072"/>
<rect x="666" y="778" width="18" height="8" fill="#1e006e"/>
<rect x="666" y="786" width="18" height="8" fill="#21006b"/>
<rect x="666" y="794" width="18" height="8" fill="#240068"/>
<rect x="666" y="802" width="18" height="8" fill="#270065"/>
<rect x="666" y="810" width="18" height="8" fill="#2a0062"/>
<rect x="684" y="170" width="18" height="112" fill="#100011"/>
<rect x="684" y="282" width="18" height="8" fill="#260066"/>
<rect x="684" y="290" width="18" height="8" fill="#240068"/>
<rect x="684" y="298" width="18" height="8" fill="#22006a"/>
<rect x="684" y="306" width="18" height="8" fill="#21006b"/>
<rect x="684" y="314" width="18" height="8" fill="#1f006d"/>
<rect x="684" y="322" width="18" height="8" fill="#1d006f"/>
<rect x="684" y="330" width="18" height="8" fill="#1a0072"/>
<rect x="684" y="338" width="18" height="8" fill="#180074"/>
<rect x="684" y="346" width="18" height="8" fill="#150077"/>
<rect x="684" y="354" width="18" height="8" fill="#12007a"/>
<rect x="684" y="362" width="18" height="8" fill="#0f007d"/>
<rect x="684" y="370" width="18" height="8" fill="#0c0080"/>
<rect x="684" y="378" width="18" height="8" fill="#080084"/>
<rect x="684" y="386" width="18" height="8" fill="#040088"/>
<rect x="684" y="394" width="18" height="8" fill="#00018b"/>
<rect x="684" y="402" width="18" height="8" fill="#000b83"/>
<rect x="684" y="410" width="18" height="8" fill="#001978"/>
<rect x="684" y="418" width="18" height="8" fill="#003465"/>
<rect x="684" y="426" width="18" height="8" fill="#005248"/>
<rect x="684" y="434" width="18" height="8" fill="#006e21"/>
<rect x="684" y="442" width="18" height="8" fill="#068600"/>
<rect x="684" y="450" width="18" height="8" fill="#389500"/>
<rect x="684" y="458" width="18" height="8" fill="#5aa000"/>
<rect x="684" y="466" width="18" height="8" fill="#6ca500"/>
<rect x="684" y="474" width="18" height="8" fill="#71a700"/>
<rect x="684" y="482" width="18" height="8" fill="#6da500"/>
<rect x="684" y="490" width="18" height="8" fill="#60a100"/>
<rect x="684" y="498" width="18" height="8" fill="#4c9b00"/>
<rect x="684" y="506" width="18" height="8" fill="#389500"/>
<rect x="684" y="514" width="18" height="8" fill="#258f00"/>
<rect x="684" y="522" width="18" height="8" fill="#128900"/>
<rect x="684" y="530" width="18" height="8" fill="#048501"/>
<rect x="684" y="538" width="18" height="8" fill="#038105"/>
<rect x="684" y="546" width="18" height="8" fill="#038007"/>
<rect x="684" y="554" width="18" height="8" fill="#027c0d"/>
<rect x="684" y="562" width="18" height="8" fill="#027714"/>
<rect x="684" y="570" width="18" height="8" fill="#01731a"/>
<rect x="684" y="578" width="18" height="16" fill="#01721b"/>
<rect x="684" y="594" width="18" height="8" fill="#017319"/>
<rect x="684" y="602" width="18" height="8" fill="#017517"/>
<rect x="684" y="610" width="18" height="8" fill="#027714"/>
<rect x="684" y="618" width="18" height="8" fill="#027b0f"/>
<rect x="684" y="626" width="18" height="8" fill="#038106"/>
<rect x="684" y="634" width="18" height="8" fill="#078600"/>
<rect x="684" y="642" width="18" height="8" fill="#0f8800"/>
<rect x="684" y="650" width="18" height="8" fill="#158a00"/>
<rect x="684" y="658" width="18" height="8" fill="#178b00"/>
<rect x="684" y="666" width="18" height="8" fill="#108900"/>
<rect x="684" y="674" width="18" height="8" fill="#037f08"/>
<rect x="684" y="682" width="18" height="8" fill="#006b25"/>
<rect x="684" y="690" width="18" height="8" fill="#004952"/>
<rect x="684" y="698" width="18" height="8" fill="#001978"/>
<rect x="684" y="706" width="18" height="8" fill="#01008b"/>
<rect x="684" y="714" width="18" height="8" fill="#0c0080"/>
<rect x="684" y="722" width="18" height="8" fill="#12007a"/>
<rect x="684" y="730" width="18" height="8" fill="#160076"/>
<rect x="684" y="738" width="18" height="8" fill="#190073"/>
<rect x="684" y="746" width="18" height="8" fill="#1c0070"/>
<rect x="684" y="754" width="18" height="8" fill="#1e006e"/>
<rect x="684" y="762" width="18" height="8" fill="#21006b"/>
<rect x="684" y="770" width="18" height="8" fill="#240068"/>
<rect x="684" y="778" width="18" height="8" fill="#260066"/>
<rect x="684" y="786" width="18" height="8" fill="#290064"/>
<rect x="684" y="794" width="18" height="8" fill="#2b0062"/>
<rect x="684" y="802" width="18" height="8" fill="#2d0060"/>
<rect x="684" y="810" width="18" height="8" fill="#2f005e"/>
<rect x="702" y="170" width="18" height="96" fill="#100011"/>
<rect x="702" y="266" width="18" height="8" fill="#22006a"/>
<rect x="702" y="274" width="18" height="8" fill="#20006c"/>
<rect x="702" y="282" width="18" height="8" fill="#1f006d"/>
<rect x="702" y="290" width="18" height="8" fill="#1e006e"/>
<rect x="702" y="298" width="18" height="8" fill="#1c0070"/>
<rect x="702" y="306" width="18" height="8" fill="#1b0071"/>
<rect x="702" y="314" width="18" height="8" fill="#1a0072"/>
<rect x="702" y="322" width="18" height="8" fill="#180074"/>
<rect x="702" y="330" width="18" height="8" fill="#160076"/>
<rect x="702" y="338" width="18" height="8" fill="#130079"/>
<rect x="702" y="346" width="18" height="8" fill="#11007b"/>
<rect x="702" y="354" width="18" height="8" fill="#0e007e"/>
<rect x="702" y="362" width="18" height="8" fill="#0b0081"/>
<rect x="702" y="370" width="18" height="8" fill="#050087"/>
<rect x="702" y="378" width="18" height="8" fill="#000c83"/>
<rect x="702" y="386" width="18" height="8" fill="#003266"/>
<rect x="702" y="394" width="18" height="8" fill="#00672a"/>
<rect x="702" y="402" width="18" height="8" fill="#148a00"/>
<rect x="702" y="410" width="18" height="8" fill="#4f9c00"/>
<rect x="702" y="418" width="18" height="8" fill="#7baa00"/>
<rect x="702" y="426" width="18" height="8" fill="#8eb000"/>
<rect x="702" y="434" width="18" height="8" fill="#95b300"/>
<rect x="702" y="442" width="18" height="8" fill="#92b200"/>
<rect x="702" y="450" width="18" height="8" fill="#87ae00"/>
<rect x="702" y="458" width="18" height="8" fill="#75a800"/>
<rect x="702" y="466" width="18" height="8" fill="#5ba000"/>
<rect x="702" y="474" width="18" height="8" fill="#439800"/>
<rect x="702" y="482" width="18" height="8" fill="#2e9200"/>
<rect x="702" y="490" width="18" height="8" fill="#1c8c00"/>
<rect x="702" y="498" width="18" height="8" fill="#0c8700"/>
<rect x="702" y="506" width="18" height="8" fill="#038106"/>
<rect x="702" y="514" width="18" height="8" fill="#027912"/>
<rect x="702" y="522" width="18" height="8" fill="#01721b"/>
<rect x="702" y="530" width="18" height="8" fill="#006f20"/>
<rect x="702" y="538" width="18" height="40" fill="#006e21"/>
<rect x="702" y="578" width="18" height="8" fill="#006f20"/>
<rect x="702" y="586" width="18" height="8" fill="#01711d"/>
<rect x="702" y="594" width="18" height="8" fill="#017615"/>
<rect x="702" y="602" width="18" height="8" fill="#027b0f"/>
<rect x="702" y="610" width="18" height="16" fill="#037d0b"/>
<rect x="702" y="626" width="18" height="8" fill="#027b0f"/>
<rect x="702" y="634" width="18" height="8" fill="#017319"/>
<rect x="702" y="642" width="18" height="8" fill="#00642e"/>
<rect x="702" y="650" width="18" height="8" fill="#004c4f"/>
<rect x="702" y="658" width="18" height="8" fill="#002371"/>
<rect x="702" y="666" width="18" height="8" fill="#00018b"/>
<rect x="702" y="674" width="18" height="8" fill="#0d007f"/>
<rect x="702" y="682" width="18" height="8" fill="#160076"/>
<rect x="702" y="690" width="18" height="8" fill="#1d006f"/>
<rect x="702" y="698" width="18" height="8" fill="#22006a"/>
<rect x="702" y="706" width="18" height="8" fill="#250067"/>
<rect x="702" y="714" width="18" height="8" fill="#270065"/>
<rect x="702" y="722" width="18" height="8" fill="#290063"/>
<rect x="702" y="730" width="18" height="8" fill="#2b0062"/>
<rect x="702" y="738" width="18" height="8" fill="#2c0061"/>
<rect x="702" y="746" width="18" height="8" fill="#2d005f"/>
<rect x="702" y="754" width="18" height="8" fill="#2f005e"/>
<rect x="702" y="762" width="18" height="8" fill="#30005d"/>
<rect x="702" y="770" width="18" height="8" fill="#32005c"/>
<rect x="702" y="778" width="18" height="8" fill="#33005a"/>
<rect x="702" y="786" width="18" height="8" fill="#350059"/>
<rect x="702" y="794" width="18" height="8" fill="#370057"/>
<rect x="702" y="802" width="18" height="8" fill="#380056"/>
<rect x="702" y="810" width="18" height="8" fill="#3b0054"/>
<rect x="720" y="170" width="18" height="64" fill="#100011"/>
<rect x="720" y="234" width="18" height="8" fill="#260066"/>
<rect x="720" y="242" width="18" height="8" fill="#240068"/>
<rect x="720" y="250" width="18" height="8" fill="#22006a"/>
<rect x="720" y="258" width="18" height="8" fill="#21006b"/>
<rect x="720" y="266" width="18" height="8" fill="#1f006d"/>
<rect x="720" y="274" width="18" height="8" fill="#1d006f"/>
<rect x="720" y="282" width="18" height="8" fill="#1b0071"/>
<rect x="720" y="290" width="18" height="8" fill="#180074"/>
<rect x="720" y="298" width="18" height="8" fill="#140078"/>
<rect x="720" y="306" width="18" height="8" fill="#11007b"/>
<rect x="720" y="314" width="18" height="8" fill="#0b0081"/>
<rect x="720" y="322" width="18" height="8" fill="#01008b"/>
<rect x="720" y="330" width="18" height="8" fill="#00117f"/>
<rect x="720" y="338" width="18" height="8" fill="#003068"/>
<rect x="720" y="346" width="18" height="8" fill="#005446"/>
<rect x="720" y="354" width="18" height="8" fill="#0c8700"/>
<rect x="720" y="362" width="18" height="8" fill="#63a200"/>
<rect x="720" y="370" width="18" height="8" fill="#bec100"/>
<rect x="720" y="378" width="18" height="8" fill="#cfb700"/>
<rect x="720" y="386" width="18" height="8" fill="#d3a300"/>
<rect x="720" y="394" width="18" height="8" fill="#d49c00"/>
<rect x="720" y="402" width="18" height="8" fill="#d3a100"/>
<rect x="720" y="410" width="18" height="8" fill="#d1af00"/>
<rect x="720" y="418" width="18" height="8" fill="#cec100"/>
<rect x="720" y="426" width="18" height="8" fill="#bec100"/>
<rect x="720" y="434" width="18" height="8" fill="#a7b900"/>
<rect x="720" y="442" width="18" height="8" fill="#8baf00"/>
<rect x="720" y="450" width="18" height="8" fill="#69a400"/>
<rect x="720" y="458" width="18" height="8" fill="#489a00"/>
<rect x="720" y="466" width="18" height="8" fill="#309200"/>
<rect x="720" y="474" width="18" height="8" fill="#208e00"/>
<rect x="720" y="482" width="18" height="8" fill="#128900"/>
<rect x="720" y="490" width="18" height="8" fill="#048501"/>
<rect x="720" y="498" width="18" height="8" fill="#037f09"/>
<rect x="720" y="506" width="18" height="8" fill="#027b0e"/>
<rect x="720" y="514" width="18" height="24" fill="#027b0f"/>
<rect x="720" y="538" width="18" height="8" fill="#027b0e"/>
<rect x="720" y="546" width="18" height="8" fill="#037f09"/>
<rect x="720" y="554" width="18" height="8" fill="#048402"/>
<rect x="720" y="562" width="18" height="8" fill="#0a8700"/>
<rect x="720" y="570" width="18" height="8" fill="#0c8700"/>
<rect x="720" y="578" width="18" height="8" fill="#0b8700"/>
<rect x="720" y="586" width="18" height="8" fill="#048501"/>
<rect x="720" y="594" width="18" height="8" fill="#027b0e"/>
<rect x="720" y="602" width="18" height="8" fill="#006a27"/>
<rect x="720" y="610" width="18" height="8" fill="#004f4c"/>
<rect x="720" y="618" width="18" height="8" fill="#002570"/>
<rect x="720" y="626" width="18" height="8" fill="#00038a"/>
<rect x="720" y="634" width="18" height="8" fill="#0d007f"/>
<rect x="720" y="642" width="18" height="8" fill="#190073"/>
<rect x="720" y="650" width="18" height="8" fill="#21006b"/>
<rect x="720" y="658" width="18" height="8" fill="#270065"/>
<rect x="720" y="666" width="18" height="8" fill="#2c0061"/>
<rect x="720" y="674" width="18" height="8" fill="#31005d"/>
<rect x="720" y="682" width="18" height="8" fill="#350059"/>
<rect x="720" y="690" width="18" height="8" fill="#380056"/>
<rect x="720" y="698" width="18" height="8" fill="#3b0054"/>
<rect x="720" y="706" width="18" height="8" fill="#3e0052"/>
<rect x="720" y="714" width="18" height="8" fill="#400051"/>
<rect x="720" y="722" width="18" height="24" fill="#420050"/>
<rect x="720" y="746" width="18" height="16" fill="#43004f"/>
<rect x="720" y="762" width="18" height="8" fill="#44004f"/>
<rect x="720" y="770" width="18" height="16" fill="#44004e"/>
<rect x="720" y="786" width="18" height="16" fill="#45004e"/>
<rect x="720" y="802" width="18" height="16" fill="#020003"/>
<rect x="738" y="170" width="18" height="40" fill="#100011"/>
<rect x="738" y="210" width="18" height="8" fill="#290064"/>
<rect x="738" y="218" width="18" height="8" fill="#270065"/>
<rect x="738" y="226" width="18" height="8" fill="#250067"/>
<rect x="738" y="234" width="18" height="8" fill="#240068"/>
<rect x="738" y="242" width="18" height="8" fill="#22006a"/>
<rect x="738" y="250" width="18" height="8" fill="#1f006d"/>
<rect x="738" y="258" width="18" height="8" fill="#1c0070"/>
<rect x="738" y="266" width="18" height="8" fill="#170075"/>
<rect x="738" y="274" width="18" height="8" fill="#12007a"/>
<rect x="738" y="282" width="18" height="8" fill="#0d007f"/>
<rect x="738" y="290" width="18" height="8" fill="#040088"/>
<rect x="738" y="298" width="18" height="8" fill="#000c82"/>
<rect x="738" y="306" width="18" height="8" fill="#003067"/>
<rect x="738" y="314" width="18" height="8" fill="#005a3c"/>
<rect x="738" y="322" width="18" height="8" fill="#0c8700"/>
<rect x="738" y="330" width="18" height="8" fill="#8cb000"/>
<rect x="738" y="338" width="18" height="8" fill="#d49c00"/>
<rect x="738" y="346" width="18" height="8" fill="#d47800"/>
<rect x="738" y="354" width="18" height="8" fill="#d05c00"/>
<rect x="738" y="362" width="18" height="16" fill="#ce4e00"/>
<rect x="738" y="378" width="18" height="8" fill="#d05c00"/>
<rect x="738" y="386" width="18" height="8" fill="#d47400"/>
<rect x="738" y="394" width="18" height="8" fill="#d59200"/>
<rect x="738" y="402" width="18" height="8" fill="#d0b300"/>
<rect x="738" y="410" width="18" height="8" fill="#bcc000"/>
<rect x="738" y="418" width="18" height="8" fill="#98b400"/>
<rect x="738" y="426" width="18" height="8" fill="#77a800"/>
<rect x="738" y="434" width="18" height="8" fill="#579e00"/>
<rect x="738" y="442" width="18" height="8" fill="#3e9700"/>
<rect x="738" y="450" width="18" height="8" fill="#2f9200"/>
<rect x="738" y="458" width="18" height="8" fill="#289000"/>
<rect x="738" y="466" width="18" height="24" fill="#269000"/>
<rect x="738" y="490" width="18" height="8" fill="#279000"/>
<rect x="738" y="498" width="18" height="8" fill="#2c9100"/>
<rect x="738" y="506" width="18" height="8" fill="#389500"/>
<rect x="738" y="514" width="18" height="8" fill="#459900"/>
<rect x="738" y="522" width="18" height="8" fill="#4d9b00"/>
<rect x="738" y="530" width="18" height="16" fill="#4e9c00"/>
<rect x="738" y="546" width="18" height="8" fill="#499a00"/>
<rect x="738" y="554" width="18" height="8" fill="#379500"/>
<rect x="738" y="562" width="18" height="8" fill="#0e8800"/>
<rect x="738" y="570" width="18" height="8" fill="#01721c"/>
<rect x="738" y="578" width="18" height="8" fill="#00514a"/>
<rect x="738" y="586" width="18" height="8" fill="#00256f"/>
<rect x="738" y="594" width="18" height="8" fill="#000687"/>
<rect x="738" y="602" width="18" height="8" fill="#0a0082"/>
<rect x="738" y="610" width="18" height="8" fill="#160076"/>
<rect x="738" y="618" width="18" height="8" fill="#20006c"/>
<rect x="738" y="626" width="18" height="8" fill="#270065"/>
<rect x="738" y="634" width="18" height="8" fill="#2d0060"/>
<rect x="738" y="642" width="18" height="8" fill="#32005b"/>
<rect x="738" y="650" width="18" height="8" fill="#370057"/>
<rect x="738" y="658" width="18" height="8" fill="#3c0054"/>
<rect x="738" y="666" width="18" height="8" fill="#400051"/>
<rect x="738" y="674" width="18" height="8" fill="#43004f"/>
<rect x="738" y="682" width="18" height="8" fill="#46004d"/>
<rect x="738" y="690" width="18" height="8" fill="#48004c"/>
<rect x="738" y="698" width="18" height="8" fill="#46004a"/>
<rect x="738" y="706" width="18" height="8" fill="#450049"/>
<rect x="738" y="714" width="18" height="16" fill="#440048"/>
<rect x="738" y="730" width="18" height="8" fill="#440047"/>
<rect x="738" y="738" width="18" height="32" fill="#430047"/>
<rect x="738" y="770" width="18" height="48" fill="#020003"/>
<rect x="756" y="170" width="18" height="24" fill="#100011"/>
<rect x="756" y="194" width="18" height="8" fill="#2c0060"/>
<rect x="756" y="202" width="18" height="8" fill="#2b0061"/>
<rect x="756" y="210" width="18" height="8" fill="#2a0062"/>
<rect x="756" y="218" width="18" height="8" fill="#2a0063"/>
<rect x="756" y="226" width="18" height="8" fill="#290064"/>
<rect x="756" y="234" width="18" height="8" fill="#280064"/>
<rect x="756" y="242" width="18" height="8" fill="#270065"/>
<rect x="756" y="250" width="18" height="8" fill="#240068"/>
<rect x="756" y="258" width="18" height="8" fill="#20006c"/>
<rect x="756" y="266" width="18" height="8" fill="#190073"/>
<rect x="756" y="274" width="18" height="8" fill="#0f007d"/>
<rect x="756" y="282" width="18" height="8" fill="#00008c"/>
<rect x="756" y="290" width="18" height="8" fill="#003c5f"/>
<rect x="756" y="298" width="18" height="8" fill="#00672a"/>
<rect x="756" y="306" width="18" height="8" fill="#5ba000"/>
<rect x="756" y="314" width="18" height="8" fill="#b7be00"/>
<rect x="756" y="322" width="18" height="8" fill="#d59200"/>
<rect x="756" y="330" width="18" height="8" fill="#d47400"/>
<rect x="756" y="338" width="18" height="8" fill="#d16200"/>
<rect x="756" y="346" width="18" height="8" fill="#d05d00"/>
<rect x="756" y="354" width="18" height="8" fill="#d16400"/>
<rect x="756" y="362" width="18" height="8" fill="#d47400"/>
<rect x="756" y="370" width="18" height="8" fill="#d78800"/>
<rect x="756" y="378" width="18" height="8" fill="#d3a300"/>
<rect x="756" y="386" width="18" height="8" fill="#cec100"/>
<rect x="756" y="394" width="18" height="8" fill="#b1bc00"/>
<rect x="756" y="402" width="18" height="8" fill="#91b100"/>
<rect x="756" y="410" width="18" height="8" fill="#77a800"/>
<rect x="756" y="418" width="18" height="8" fill="#63a200"/>
<rect x="756" y="426" width="18" height="8" fill="#579e00"/>
<rect x="756" y="434" width="18" height="8" fill="#509c00"/>
<rect x="756" y="442" width="18" height="8" fill="#4e9c00"/>
<rect x="756" y="450" width="18" height="8" fill="#4f9c00"/>
<rect x="756" y="458" width="18" height="8" fill="#549e00"/>
<rect x="756" y="466" width="18" height="8" fill="#60a100"/>
<rect x="756" y="474" width="18" height="8" fill="#6da500"/>
<rect x="756" y="482" width="18" height="8" fill="#78a900"/>
<rect x="756" y="490" width="18" height="8" fill="#7fab00"/>
<rect x="756" y="498" width="18" height="8" fill="#87ae00"/>
<rect x="756" y="506" width="18" height="8" fill="#8baf00"/>
<rect x="756" y="514" width="18" height="8" fill="#8aaf00"/>
<rect x="756" y="522" width="18" height="8" fill="#81ac00"/>
<rect x="756" y="530" width="18" height="8" fill="#67a400"/>
<rect x="756" y="538" width="18" height="8" fill="#3d9600"/>
<rect x="756" y="546" width="18" height="8" fill="#078600"/>
<rect x="756" y="554" width="18" height="8" fill="#006e21"/>
<rect x="756" y="562" width="18" height="8" fill="#004c4f"/>
<rect x="756" y="570" width="18" height="8" fill="#001c76"/>
<rect x="756" y="578" width="18" height="8" fill="#030089"/>
<rect x="756" y="586" width="18" height="8" fill="#130079"/>
<rect x="756" y="594" width="18" height="8" fill="#21006b"/>
<rect x="756" y="602" width="18" height="8" fill="#2c0061"/>
<rect x="756" y="610" width="18" height="8" fill="#34005a"/>
<rect x="756" y="618" width="18" height="8" fill="#390055"/>
<rect x="756" y="626" width="18" height="8" fill="#3e0052"/>
<rect x="756" y="634" width="18" height="8" fill="#43004f"/>
<rect x="756" y="642" width="18" height="8" fill="#47004d"/>
<rect x="756" y="650" width="18" height="8" fill="#46004a"/>
<rect x="756" y="658" width="18" height="8" fill="#430047"/>
<rect x="756" y="666" width="18" height="8" fill="#400044"/>
<rect x="756" y="674" width="18" height="8" fill="#3d0041"/>
<rect x="756" y="682" width="18" height="8" fill="#3b003e"/>
<rect x="756" y="690" width="18" height="8" fill="#39003c"/>
<rect x="756" y="698" width="18" height="8" fill="#360039"/>
<rect x="756" y="706" width="18" height="8" fill="#350037"/>
<rect x="756" y="714" width="18" height="24" fill="#330036"/>
<rect x="756" y="738" width="18" height="80" fill="#020003"/>
<rect x="774" y="170" width="18" height="8" fill="#100011"/>
<rect x="774" y="178" width="18" height="8" fill="#30005d"/>
<rect x="774" y="186" width="18" height="8" fill="#30005e"/>
<rect x="774" y="194" width="18" height="16" fill="#2f005e"/>
<rect x="774" y="210" width="18" height="16" fill="#2e005f"/>
<rect x="774" y="226" width="18" height="8" fill="#2d005f"/>
<rect x="774" y="234" width="18" height="16" fill="#2d0060"/>
<rect x="774" y="250" width="18" height="8" fill="#2b0061"/>
<rect x="774" y="258" width="18" height="8" fill="#280065"/>
<rect x="774" y="266" width="18" height="8" fill="#1e006e"/>
<rect x="774" y="274" width="18" height="8" fill="#0e007e"/>
<rect x="774" y="282" width="18" height="8" fill="#000786"/>
<rect x="774" y="290" width="18" height="8" fill="#004d4e"/>
<rect x="774" y="298" width="18" height="8" fill="#037e0a"/>
<rect x="774" y="306" width="18" height="8" fill="#76a800"/>
<rect x="774" y="314" width="18" height="8" fill="#aebb00"/>
<rect x="774" y="322" width="18" height="8" fill="#cfbb00"/>
<rect x="774" y="330" width="18" height="8" fill="#d3a300"/>
<rect x="774" y="338" width="18" height="8" fill="#d49b00"/>
<rect x="774" y="346" width="18" height="8" fill="#d3a100"/>
<rect x="774" y="354" width="18" height="8" fill="#d0b200"/>
<rect x="774" y="362" width="18" height="8" fill="#c9c500"/>
<rect x="774" y="370" width="18" height="8" fill="#acbb00"/>
<rect x="774" y="378" width="18" height="8" fill="#8cb000"/>
<rect x="774" y="386" width="18" height="8" fill="#6ea500"/>
<rect x="774" y="394" width="18" height="8" fill="#519d00"/>
<rect x="774" y="402" width="18" height="8" fill="#3d9600"/>
<rect x="774" y="410" width="18" height="8" fill="#319300"/>
<rect x="774" y="418" width="18" height="8" fill="#2b9100"/>
<rect x="774" y="426" width="18" height="8" fill="#279000"/>
<rect x="774" y="434" width="18" height="8" fill="#269000"/>
<rect x="774" y="442" width="18" height="8" fill="#279000"/>
<rect x="774" y="450" width="18" height="8" fill="#2c9100"/>
<rect x="774" y="458" width="18" height="8" fill="#3a9600"/>
<rect x="774" y="466" width="18" height="8" fill="#529d00"/>
<rect x="774" y="474" width="18" height="8" fill="#68a400"/>
<rect x="774" y="482" width="18" height="8" fill="#77a800"/>
<rect x="774" y="490" width="18" height="8" fill="#7fab00"/>
<rect x="774" y="498" width="18" height="8" fill="#82ac00"/>
<rect x="774" y="506" width="18" height="8" fill="#79a900"/>
<rect x="774" y="514" width="18" height="8" fill="#5da000"/>
<rect x="774" y="522" width="18" height="8" fill="#319300"/>
<rect x="774" y="530" width="18" height="8" fill="#048303"/>
<rect x="774" y="538" width="18" height="8" fill="#005a3c"/>
<rect x="774" y="546" width="18" height="8" fill="#002d69"/>
<rect x="774" y="554" width="18" height="8" fill="#000588"/>
<rect x="774" y="562" width="18" height="8" fill="#0e007e"/>
<rect x="774" y="570" width="18" height="8" fill="#1c0070"/>
<rect x="774" y="578" width="18" height="8" fill="#280064"/>
<rect x="774" y="586" width="18" height="8" fill="#31005c"/>
<rect x="774" y="594" width="18" height="8" fill="#3b0054"/>
<rect x="774" y="602" width="18" height="8" fill="#47004d"/>
<rect x="774" y="610" width="18" height="8" fill="#430046"/>
<rect x="774" y="618" width="18" height="8" fill="#3d0041"/>
<rect x="774" y="626" width="18" height="8" fill="#39003c"/>
<rect x="774" y="634" width="18" height="8" fill="#340037"/>
<rect x="774" y="642" width="18" height="8" fill="#300033"/>
<rect x="774" y="650" width="18" height="8" fill="#2c002f"/>
<rect x="774" y="658" width="18" height="8" fill="#29002b"/>
<rect x="774" y="666" width="18" height="8" fill="#270029"/>
<rect x="774" y="674" width="18" height="8" fill="#250028"/>
<rect x="774" y="682" width="18" height="8" fill="#240026"/>
<rect x="774" y="690" width="18" height="8" fill="#230025"/>
<rect x="774" y="698" width="18" height="8" fill="#220024"/>
<rect x="774" y="706" width="18" height="8" fill="#210023"/>
<rect x="774" y="714" width="18" height="104" fill="#020003"/>
</g>
<g><path d="M161.9 817.8 v-6 M161.9 169.9 v6 M179.9 817.8 v-6 M179.9 169.9 v6 M197.9 817.8 v-6 M197.9 169.9 v6 M215.9 817.8 v-6 M215.9 169.9 v6 M233.9 817.8 v-12 M233.9 169.9 v12 M251.9 817.8 v-6 M251.9 169.9 v6 M269.9 817.8 v-6 M269.9 169.9 v6 M287.9 817.8 v-6 M287.9 169.9 v6 M305.9 817.8 v-6 M305.9 169.9 v6 M323.9 817.8 v-12 M323.9 169.9 v12 M341.9 817.8 v-6 M341.9 169.9 v6 M359.9 817.8 v-6 M359.9 169.9 v6 M377.9 817.8 v-6 M377.9 169.9 v6 M395.9 817.8 v-6 M395.9 169.9 v6 M413.9 817.8 v-12 M413.9 169.9 v12 M431.9 817.8 v-6 M431.9 169.9 v6 M449.9 817.8 v-6 M449.9 169.9 v6 M467.9 817.8 v-6 M467.9 169.9 v6 M485.9 817.8 v-6 M485.9 169.9 v6 M503.9 817.8 v-12 M503.9 169.9 v12 M521.9 817.8 v-6 M521.9 169.9 v6 M539.9 817.8 v-6 M539.9 169.9 v6 M557.9 817.8 v-6 M557.9 169.9 v6 M575.9 817.8 v-6 M575.9 169.9 v6 M593.9 817.8 v-12 M593.9 169.9 v12 M611.9 817.8 v-6 M611.9 169.9 v6 M629.9 817.8 v-6 M629.9 169.9 v6 M647.9 817.8 v-6 M647.9 169.9 v6 M665.9 817.8 v-6 M665.9 169.9 v6 M683.9 817.8 v-12 M683.9 169.9 v12 M701.9 817.8 v-6 M701.9 169.9 v6 M719.9 817.8 v-6 M719.9 169.9 v6 M737.9 817.8 v-6 M737.9 169.9 v6 M755.9 817.8 v-6 M755.9 169.9 v6 M773.9 817.8 v-12 M773.9 169.9 v12 M143.9 818.0 h12 M791.9 818.0 h-12 M143.9 738.0 h6 M791.9 738.0 h-6 M143.9 658.0 h12 M791.9 658.0 h-12 M143.9 578.0 h6 M791.9 578.0 h-6 M143.9 498.0 h12 M791.9 498.0 h-12 M143.9 418.0 h6 M791.9 418.0 h-6 M143.9 338.0 h12 M791.9 338.0 h-12 M143.9 258.0 h6 M791.9 258.0 h-6 M143.9 178.0 h12 M791.9 178.0 h-12" stroke="#000" stroke-width="1.2" fill="none"/><rect x="143.9" y="169.9" width="648.0" height="647.9" fill="none" stroke="#000" stroke-width="1.1"/></g>
<g shape-rendering="crispEdges"><defs><linearGradient id="cb" x1="0" x2="1" y1="0" y2="0"><stop offset="0.0000" stop-color="#000000"/><stop offset="0.1467" stop-color="#48004c"/><stop offset="0.1667" stop-color="#380056"/><stop offset="0.2000" stop-color="#260066"/><stop offset="0.2333" stop-color="#140078"/><stop offset="0.2750" stop-color="#00008c"/><stop offset="0.3050" stop-color="#001978"/><stop offset="0.3333" stop-color="#003c5f"/><stop offset="0.3533" stop-color="#00504b"/><stop offset="0.3917" stop-color="#006e21"/><stop offset="0.4283" stop-color="#048500"/><stop offset="0.5000" stop-color="#76a800"/><stop offset="0.5667" stop-color="#cdc600"/><stop offset="0.6167" stop-color="#d78700"/><stop offset="0.6667" stop-color="#cd4b00"/><stop offset="0.7167" stop-color="#d92100"/><stop offset="0.7750" stop-color="#ec0a00"/><stop offset="0.8333" stop-color="#ff0000"/><stop offset="0.9000" stop-color="#ff6c6c"/><stop offset="0.9500" stop-color="#ffcdcd"/><stop offset="0.9833" stop-color="#fff6f6"/><stop offset="1.0000" stop-color="#ffffff"/></linearGradient></defs><rect x="540" y="34" width="324" height="13" fill="url(#cb)"/><rect x="539.5" y="33.5" width="325" height="14" fill="none" stroke="#000" stroke-width="1"/><path d="M593.6 34 v2 M593.6 47 v-2" stroke="#000" stroke-width="1" fill="none"/><path d="M647.8 34 v2 M647.8 47 v-2" stroke="#000" stroke-width="1" fill="none"/><path d="M702.0 34 v2 M702.0 47 v-2" stroke="#000" stroke-width="1" fill="none"/><path d="M756.1 34 v2 M756.1 47 v-2" stroke="#000" stroke-width="1" fill="none"/><path d="M810.2 34 v2 M810.2 47 v-2" stroke="#000" stroke-width="1" fill="none"/></g>
<g opacity="0.999">
<text transform="translate(702,20.5) scale(1,1)" text-anchor="middle" font-size="30">TEC</text>
<text transform="translate(539.5,82) scale(1,1)" text-anchor="middle" font-size="30">0</text>
<text transform="translate(593.65,82) scale(1,1)" text-anchor="middle" font-size="30">10</text>
<text transform="translate(647.8,82) scale(1,1)" text-anchor="middle" font-size="30">20</text>
<text transform="translate(701.95,82) scale(1,1)" text-anchor="middle" font-size="30">30</text>
<text transform="translate(756.1,82) scale(1,1)" text-anchor="middle" font-size="30">40</text>
<text transform="translate(810.25,82) scale(1,1)" text-anchor="middle" font-size="30">50</text>
<text transform="translate(864.4,82) scale(1,1)" text-anchor="middle" font-size="30">60</text>
<text transform="translate(471,155.6) scale(1,1)" text-anchor="middle" font-size="30">PBf20160813&#160;&#160;UT: 18.25&#160;&#160;mjd: 57613</text>
<text transform="translate(130,185) scale(1,1)" text-anchor="end" font-size="30">40</text>
<text transform="translate(130,345) scale(1,1)" text-anchor="end" font-size="30">20</text>
<text transform="translate(130,505) scale(1,1)" text-anchor="end" font-size="30">0</text>
<text transform="translate(130,665) scale(1,1)" text-anchor="end" font-size="30">-20</text>
<text transform="translate(130,825) scale(1,1)" text-anchor="end" font-size="30">-40</text>
<text transform="translate(144.5,852.6) scale(1,1)" text-anchor="middle" font-size="30">0</text>
<text transform="translate(234.5,852.6) scale(1,1)" text-anchor="middle" font-size="30">50</text>
<text transform="translate(324.5,852.6) scale(1,1)" text-anchor="middle" font-size="30">100</text>
<text transform="translate(414.5,852.6) scale(1,1)" text-anchor="middle" font-size="30">150</text>
<text transform="translate(504.5,852.6) scale(1,1)" text-anchor="middle" font-size="30">200</text>
<text transform="translate(594.5,852.6) scale(1,1)" text-anchor="middle" font-size="30">250</text>
<text transform="translate(684.5,852.6) scale(1,1)" text-anchor="middle" font-size="30">300</text>
<text transform="translate(774.5,852.6) scale(1,1)" text-anchor="middle" font-size="30">350</text>
<text transform="translate(0,418) scale(1,1)" text-anchor="start" font-size="30">Latitude</text>
<text transform="translate(467.5,893) scale(1,1)" text-anchor="middle" font-size="30">Longitude</text>
</g>
</svg>
</body></html>
